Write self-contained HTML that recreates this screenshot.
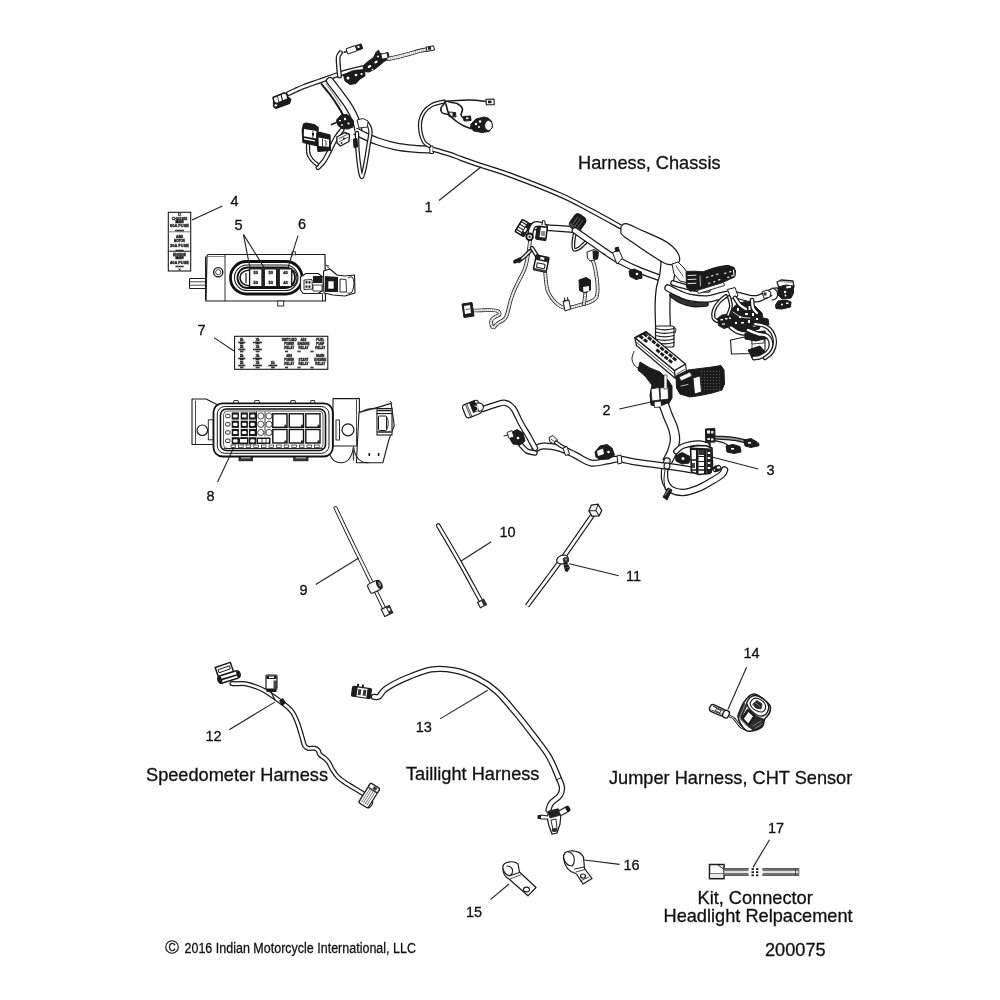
<!DOCTYPE html>
<html><head><meta charset="utf-8">
<style>
html,body{margin:0;padding:0;background:#fff;width:1000px;height:1000px;overflow:hidden}
svg{display:block}
text{font-family:"Liberation Sans",sans-serif;fill:#111;stroke:#111;stroke-width:0.3}
svg{will-change:transform}
.lb{font-size:18.2px}
.n{font-size:14.5px}
.ld{stroke:#222;stroke-width:1.1;fill:none}
</style></head><body>
<svg width="1000" height="1000" viewBox="0 0 1000 1000">
<rect width="1000" height="1000" fill="#fff"/>
<path d="M288.5 93.5 C289.8 92.9 293.4 91.2 296.0 90.0 C298.6 88.8 300.2 88.0 304.0 86.5 C307.8 85.0 314.0 83.0 318.8 81.3 C323.6 79.6 328.6 77.8 332.8 76.3 C337.0 74.8 338.8 74.0 344.0 72.5 C349.2 71.0 360.7 68.3 364.0 67.5" fill="none" stroke="#1a1a1a" stroke-width="5.10" stroke-linecap="round" stroke-linejoin="round"/>
<path d="M288.5 93.5 C289.8 92.9 293.4 91.2 296.0 90.0 C298.6 88.8 300.2 88.0 304.0 86.5 C307.8 85.0 314.0 83.0 318.8 81.3 C323.6 79.6 328.6 77.8 332.8 76.3 C337.0 74.8 338.8 74.0 344.0 72.5 C349.2 71.0 360.7 68.3 364.0 67.5" fill="none" stroke="#fff" stroke-width="2.60" stroke-linecap="round" stroke-linejoin="round"/>
<path d="M293.0 93.5 C297.3 91.8 310.3 86.4 318.8 83.3 C327.3 80.2 339.8 76.1 344.0 74.7" fill="none" stroke="#444" stroke-width="0.6" stroke-linecap="round" stroke-linejoin="round"/>
<path d="M339.5 76.0 C339.3 74.3 338.7 69.2 338.5 66.0 C338.3 62.8 337.9 59.2 338.2 57.0 C338.5 54.8 340.1 53.5 340.5 52.8" fill="none" stroke="#1a1a1a" stroke-width="4.90" stroke-linecap="round" stroke-linejoin="round"/>
<path d="M339.5 76.0 C339.3 74.3 338.7 69.2 338.5 66.0 C338.3 62.8 337.9 59.2 338.2 57.0 C338.5 54.8 340.1 53.5 340.5 52.8" fill="none" stroke="#fff" stroke-width="2.40" stroke-linecap="round" stroke-linejoin="round"/>
<path d="M273.5 102.0 L288.0 97.0 L290.8 99.5 L289.5 103.5 L276.0 108.5 L273.5 106.5Z" fill="#1c1c1c" stroke="#1a1a1a" stroke-width="1.2" stroke-linejoin="round" />
<ellipse cx="275.8" cy="105.2" rx="1.6" ry="1.1" fill="#fff" transform="rotate(-20 275.8 105.2)"/>
<path d="M273.0 97.5 L284.5 92.8 L287.0 94.5 L288.0 99.0 L276.5 103.8 L273.8 101.5Z" fill="#fff" stroke="#1a1a1a" stroke-width="1.5" stroke-linejoin="round" />
<path d="M281.0 94.5 L282.5 100.5" fill="none" stroke="#1a1a1a" stroke-width="1.1" stroke-linecap="round" stroke-linejoin="round"/>
<path d="M277.5 96.5 L279.0 102.0" fill="none" stroke="#1a1a1a" stroke-width="0.8" stroke-linecap="round" stroke-linejoin="round"/>
<g transform="translate(353,49.3) rotate(-19)">
<rect x="-10" y="-0.8" width="4" height="1.6" fill="#222"/>
<rect x="-6.5" y="-2.8" width="10" height="5.6" rx="1" fill="#fff" stroke="#1a1a1a" stroke-width="1"/>
<rect x="3" y="-3" width="7" height="6" rx="1.5" fill="#1c1c1c"/>
<rect x="5" y="-1.5" width="2" height="2" fill="#fff"/>
</g>
<path d="M363.0 66.0 L368.0 61.5 L373.5 57.5 L376.0 52.5 L378.5 50.0 L379.8 53.5 L383.0 54.0 L388.0 52.5 L389.5 58.5 L384.0 61.5 L380.0 65.0 L375.0 69.0 L369.0 72.0 L364.0 71.5Z" fill="#1c1c1c" stroke="#1a1a1a" stroke-width="1.0" stroke-linejoin="round" />
<path d="M381.0 54.0 L387.0 53.0 L388.0 58.0 L382.0 59.0Z" fill="#fff" stroke="#1a1a1a" stroke-width="0.7" stroke-linejoin="round" />
<ellipse cx="369.5" cy="66.5" rx="2" ry="1.2" fill="#fff" transform="rotate(-30 369.5 66.5)"/><ellipse cx="376" cy="62" rx="1.8" ry="1.1" fill="#fff" transform="rotate(-30 376 62)"/><circle cx="378" cy="56.5" r="1" fill="#fff"/><circle cx="372.5" cy="69.5" r="0.8" fill="#fff"/>
<path d="M388.5 59.0 C391.2 58.3 399.8 56.4 405.0 55.0 C410.2 53.6 416.3 51.7 420.0 50.8 C423.7 49.9 425.8 49.7 427.0 49.5" fill="none" stroke="#222" stroke-width="4.10" stroke-linecap="round" stroke-linejoin="round"/>
<path d="M388.5 59.0 C391.2 58.3 399.8 56.4 405.0 55.0 C410.2 53.6 416.3 51.7 420.0 50.8 C423.7 49.9 425.8 49.7 427.0 49.5" fill="none" stroke="#fff" stroke-width="2.40" stroke-linecap="round" stroke-linejoin="round"/>
<path d="M388.5 59.0 C391.2 58.3 399.8 56.4 405.0 55.0 C410.2 53.6 416.3 51.7 420.0 50.8 C423.7 49.9 425.8 49.7 427.0 49.5" fill="none" stroke="#999" stroke-width="2.40" stroke-dasharray="0.6 1.5" stroke-linejoin="round"/>
<path d="M426.0 47.2 L433.5 45.8 L434.5 50.0 L427.0 51.4Z" fill="#fff" stroke="#1a1a1a" stroke-width="1" stroke-linejoin="round" />
<rect x="428" y="47" width="3" height="2.8" fill="#1a1a1a" transform="rotate(-10 429 48)"/>
<path d="M343.5 75.0 L352.0 71.0 L358.0 70.0 L364.5 70.5 L365.0 76.0 L360.0 79.0 L356.0 83.5 L350.0 84.5 L345.0 81.0Z" fill="#1c1c1c" stroke="#1a1a1a" stroke-width="1.0" stroke-linejoin="round" />
<circle cx="348" cy="78" r="1.5" fill="#fff"/><circle cx="356" cy="75" r="1.3" fill="#fff"/><circle cx="361.5" cy="74" r="1.1" fill="#fff"/>
<path d="M330.0 81.0 C331.6 83.1 336.6 89.6 339.5 93.5 C342.4 97.4 345.2 100.9 347.5 104.5 C349.8 108.1 351.9 111.8 353.5 115.0 C355.1 118.2 356.2 121.3 357.0 124.0 C357.8 126.7 358.2 129.8 358.5 131.0" fill="none" stroke="#1a1a1a" stroke-width="8.10" stroke-linecap="round" stroke-linejoin="round"/>
<path d="M330.0 81.0 C331.6 83.1 336.6 89.6 339.5 93.5 C342.4 97.4 345.2 100.9 347.5 104.5 C349.8 108.1 351.9 111.8 353.5 115.0 C355.1 118.2 356.2 121.3 357.0 124.0 C357.8 126.7 358.2 129.8 358.5 131.0" fill="none" stroke="#fff" stroke-width="5.60" stroke-linecap="round" stroke-linejoin="round"/>
<path d="M321.5 84.0 C322.9 85.8 327.3 90.9 330.0 94.5 C332.7 98.1 335.4 102.2 337.5 105.5 C339.6 108.8 341.1 111.4 342.5 114.0 C343.9 116.6 345.4 119.8 346.0 121.0" fill="none" stroke="#1a1a1a" stroke-width="2.0" stroke-linecap="round" stroke-linejoin="round"/>
<path d="M326.0 84.0 C327.3 85.8 331.5 91.3 334.0 95.0 C336.5 98.7 339.8 104.2 341.0 106.0" fill="none" stroke="#444" stroke-width="0.7" stroke-linecap="round" stroke-linejoin="round"/>
<path d="M355.0 131.0 C356.8 131.9 362.2 134.8 366.0 136.5 C369.8 138.2 373.2 139.9 378.0 141.5 C382.8 143.1 389.0 145.0 395.0 146.2 C401.0 147.4 408.0 148.2 414.0 148.8 C420.0 149.4 428.2 149.4 431.0 149.5" fill="none" stroke="#1a1a1a" stroke-width="8.10" stroke-linecap="butt" stroke-linejoin="round"/>
<path d="M355.0 131.0 C356.8 131.9 362.2 134.8 366.0 136.5 C369.8 138.2 373.2 139.9 378.0 141.5 C382.8 143.1 389.0 145.0 395.0 146.2 C401.0 147.4 408.0 148.2 414.0 148.8 C420.0 149.4 428.2 149.4 431.0 149.5" fill="none" stroke="#fff" stroke-width="5.60" stroke-linecap="butt" stroke-linejoin="round"/>
<path d="M429.5 146.0 L433.0 146.0 L433.5 153.5 L430.0 153.5Z" fill="#fff" stroke="#1a1a1a" stroke-width="1" stroke-linejoin="round" />
<path d="M357.0 133.0 C357.1 135.8 357.1 144.2 357.5 150.0 C357.9 155.8 358.8 163.5 359.5 168.0 C360.2 172.5 361.1 177.3 362.0 177.0 C362.9 176.7 363.9 171.3 365.0 166.0 C366.1 160.7 367.6 150.8 368.5 145.0 C369.4 139.2 370.7 134.6 370.5 131.0 C370.3 127.4 368.8 125.2 367.5 123.5 C366.2 121.8 363.3 121.4 362.5 121.0" fill="none" stroke="#1a1a1a" stroke-width="4.40" stroke-linecap="round" stroke-linejoin="round"/>
<path d="M357.0 133.0 C357.1 135.8 357.1 144.2 357.5 150.0 C357.9 155.8 358.8 163.5 359.5 168.0 C360.2 172.5 361.1 177.3 362.0 177.0 C362.9 176.7 363.9 171.3 365.0 166.0 C366.1 160.7 367.6 150.8 368.5 145.0 C369.4 139.2 370.7 134.6 370.5 131.0 C370.3 127.4 368.8 125.2 367.5 123.5 C366.2 121.8 363.3 121.4 362.5 121.0" fill="none" stroke="#fff" stroke-width="1.90" stroke-linecap="round" stroke-linejoin="round"/>
<path d="M342.0 130.0 C341.0 131.3 338.0 134.7 336.0 138.0 C334.0 141.3 332.0 146.2 330.0 150.0 C328.0 153.8 326.0 158.1 324.0 161.0 C322.0 163.9 319.0 166.4 318.0 167.5" fill="none" stroke="#1a1a1a" stroke-width="5.10" stroke-linecap="round" stroke-linejoin="round"/>
<path d="M342.0 130.0 C341.0 131.3 338.0 134.7 336.0 138.0 C334.0 141.3 332.0 146.2 330.0 150.0 C328.0 153.8 326.0 158.1 324.0 161.0 C322.0 163.9 319.0 166.4 318.0 167.5" fill="none" stroke="#fff" stroke-width="2.60" stroke-linecap="round" stroke-linejoin="round"/>
<path d="M308.0 145.0 C308.1 146.5 307.8 151.5 308.5 154.0 C309.2 156.5 310.6 158.2 312.0 160.0 C313.4 161.8 316.2 163.8 317.0 164.5" fill="none" stroke="#1a1a1a" stroke-width="4.30" stroke-linecap="round" stroke-linejoin="round"/>
<path d="M308.0 145.0 C308.1 146.5 307.8 151.5 308.5 154.0 C309.2 156.5 310.6 158.2 312.0 160.0 C313.4 161.8 316.2 163.8 317.0 164.5" fill="none" stroke="#fff" stroke-width="1.80" stroke-linecap="round" stroke-linejoin="round"/>
<path d="M303.5 124.0 L306.0 123.0 L314.0 124.5 L318.2 127.6 L317.5 146.0 L303.0 142.5 L302.2 130.0Z" fill="#1a1a1a" stroke="#1a1a1a" stroke-width="1.2" stroke-linejoin="round" />
<path d="M304.0 129.0 L316.5 131.0 L316.3 138.5 L303.8 136.3Z" fill="#fff" stroke="none" stroke-width="1.0" stroke-linejoin="round" />
<path d="M304.0 138.0 L315.0 140.2 L315.0 141.6 L304.0 139.4Z" fill="#fff" stroke="none" stroke-width="1.0" stroke-linejoin="round" />
<path d="M313.0 131.5 L312.8 137.5" fill="none" stroke="#1a1a1a" stroke-width="0.9" stroke-linecap="round" stroke-linejoin="round"/>
<rect x="312" y="133" width="2" height="2.5" fill="#1a1a1a"/>
<path d="M317.0 133.0 L320.0 132.4 L330.0 135.0 L330.5 150.5 L318.0 151.5 L316.8 140.0Z" fill="#1a1a1a" stroke="#1a1a1a" stroke-width="1.2" stroke-linejoin="round" />
<path d="M318.5 137.5 L329.0 139.5 L329.0 146.8 L318.8 146.0Z" fill="#fff" stroke="none" stroke-width="1.0" stroke-linejoin="round" />
<path d="M322.5 139.0 L322.5 146.0" fill="none" stroke="#1a1a1a" stroke-width="0.9" stroke-linecap="round" stroke-linejoin="round"/>
<path d="M324.5 140.5 Q327 141 326 143 Q327.5 144.5 324.8 145.5" fill="none" stroke="#1a1a1a" stroke-width="0.9"/>
<path d="M336.5 120.0 L341.0 115.0 L347.0 114.5 L350.0 117.0 L353.5 121.0 L353.0 127.0 L348.0 129.0 L342.0 128.5 L338.0 125.5Z" fill="#1c1c1c" stroke="#1a1a1a" stroke-width="1.0" stroke-linejoin="round" />
<path d="M336.5 122.5 L331.5 124.5" fill="none" stroke="#1a1a1a" stroke-width="1.8" stroke-linecap="round" stroke-linejoin="round"/>
<circle cx="345" cy="119" r="1.2" fill="#fff"/><circle cx="348.5" cy="123.5" r="1.1" fill="#fff"/><circle cx="342" cy="125" r="0.9" fill="#fff"/><rect x="339" y="120" width="2" height="1.2" fill="#fff"/>
<path d="M336.8 137.0 L345.0 132.5 L349.5 134.5 L349.0 141.5 L340.5 146.0 L337.0 143.0Z" fill="#fff" stroke="#1a1a1a" stroke-width="1.4" stroke-linejoin="round" />
<path d="M339.0 138.5 L346.5 134.8" fill="none" stroke="#1a1a1a" stroke-width="0.8" stroke-linecap="round" stroke-linejoin="round"/>
<path d="M339.5 141.5 L347.5 137.5" fill="none" stroke="#1a1a1a" stroke-width="0.8" stroke-linecap="round" stroke-linejoin="round"/>
<circle cx="344" cy="138.5" r="1" fill="#1a1a1a"/><circle cx="341.5" cy="143" r="0.9" fill="#1a1a1a"/>
<path d="M353.5 139.0 L357.0 138.5 L357.5 147.0 L354.0 147.5Z" fill="#1c1c1c" stroke="#1a1a1a" stroke-width="1.0" stroke-linejoin="round" />
<path d="M357.0 120.0 L363.0 118.5 L368.0 121.0 L367.5 127.0 L359.0 128.0Z" fill="#fff" stroke="#1a1a1a" stroke-width="0.9" stroke-linejoin="round" />
<path d="M429.0 146.0 C428.2 145.3 425.4 144.3 424.0 142.0 C422.6 139.7 421.1 135.5 420.5 132.0 C419.9 128.5 419.7 124.3 420.3 121.0 C420.9 117.7 422.1 114.7 424.0 112.0 C425.9 109.3 428.7 106.8 432.0 105.0 C435.3 103.2 442.0 102.1 444.0 101.5" fill="none" stroke="#1a1a1a" stroke-width="4.20" stroke-linecap="round" stroke-linejoin="round"/>
<path d="M429.0 146.0 C428.2 145.3 425.4 144.3 424.0 142.0 C422.6 139.7 421.1 135.5 420.5 132.0 C419.9 128.5 419.7 124.3 420.3 121.0 C420.9 117.7 422.1 114.7 424.0 112.0 C425.9 109.3 428.7 106.8 432.0 105.0 C435.3 103.2 442.0 102.1 444.0 101.5" fill="none" stroke="#fff" stroke-width="1.70" stroke-linecap="round" stroke-linejoin="round"/>
<path d="M445.0 101.5 C446.2 101.4 447.8 101.0 452.0 100.8 C456.2 100.5 464.2 99.9 470.0 100.0 C475.8 100.1 483.8 101.2 486.5 101.5" fill="none" stroke="#1a1a1a" stroke-width="1.6" stroke-linecap="round" stroke-linejoin="round"/>
<path d="M486.0 99.2 L494.0 99.0 L494.3 104.6 L486.3 104.8Z" fill="#fff" stroke="#1a1a1a" stroke-width="1.1" stroke-linejoin="round" />
<rect x="488" y="100.6" width="3.5" height="2.6" fill="#1a1a1a"/>
<path d="M449.0 102.0 C450.5 102.3 455.8 102.8 458.0 104.0 C460.2 105.2 462.0 107.2 462.5 109.0 C463.0 110.8 460.8 113.4 461.0 115.0 C461.2 116.6 463.5 117.9 464.0 118.5" fill="none" stroke="#1a1a1a" stroke-width="1.6" stroke-linecap="round" stroke-linejoin="round"/>
<path d="M463.5 116.5 L470.5 116.0 L471.0 120.5 L464.0 121.0Z" fill="#1c1c1c" stroke="#1a1a1a" stroke-width="1.0" stroke-linejoin="round" />
<rect x="466" y="117.5" width="2.5" height="1.6" fill="#fff"/>
<path d="M445.0 103.0 C444.3 103.8 441.4 106.3 441.0 108.0 C440.6 109.7 441.2 111.9 442.5 113.0 C443.8 114.1 447.5 114.2 448.5 114.5" fill="none" stroke="#1a1a1a" stroke-width="1.6" stroke-linecap="round" stroke-linejoin="round"/>
<path d="M448.5 112.0 L455.5 112.5 L456.0 117.0 L449.0 116.5Z" fill="#fff" stroke="#1a1a1a" stroke-width="1" stroke-linejoin="round" />
<rect x="452.5" y="112.5" width="3" height="4" fill="#1a1a1a"/>
<path d="M446.0 104.0 C446.5 105.7 447.3 111.2 449.0 114.0 C450.7 116.8 453.5 119.0 456.0 121.0 C458.5 123.0 461.5 124.8 464.0 126.0 C466.5 127.2 469.8 128.1 471.0 128.5" fill="none" stroke="#1a1a1a" stroke-width="1.6" stroke-linecap="round" stroke-linejoin="round"/>
<path d="M471.0 124.0 L476.0 119.0 L484.0 117.0 L488.0 118.0 L491.5 121.0 L492.5 127.0 L489.0 131.5 L482.0 132.5 L474.0 131.0 L470.5 128.0Z" fill="#1c1c1c" stroke="#1a1a1a" stroke-width="1.0" stroke-linejoin="round" />
<ellipse cx="488.5" cy="125.5" rx="3.8" ry="5" fill="#fff" stroke="#1a1a1a" stroke-width="0.9"/>
<circle cx="476" cy="124" r="1.2" fill="#fff"/><circle cx="480" cy="121.5" r="1.2" fill="#fff"/><circle cx="479" cy="127" r="1" fill="#fff"/>
<path d="M433.0 149.3 C435.8 150.1 445.3 152.8 450.0 154.3 C454.7 155.8 455.8 156.6 461.0 158.5 C466.2 160.4 472.8 162.8 481.0 165.5 C489.2 168.2 496.8 170.1 510.0 175.0 C523.2 179.9 546.7 189.0 560.0 194.8 C573.3 200.6 579.7 204.6 590.0 210.0 C600.3 215.4 616.7 224.6 622.0 227.5" fill="none" stroke="#1a1a1a" stroke-width="5.10" stroke-linecap="butt" stroke-linejoin="round"/>
<path d="M433.0 149.3 C435.8 150.1 445.3 152.8 450.0 154.3 C454.7 155.8 455.8 156.6 461.0 158.5 C466.2 160.4 472.8 162.8 481.0 165.5 C489.2 168.2 496.8 170.1 510.0 175.0 C523.2 179.9 546.7 189.0 560.0 194.8 C573.3 200.6 579.7 204.6 590.0 210.0 C600.3 215.4 616.7 224.6 622.0 227.5" fill="none" stroke="#fff" stroke-width="2.60" stroke-linecap="butt" stroke-linejoin="round"/>
<path d="M530.0 241.0 C529.8 242.8 529.3 247.5 528.5 252.0 C527.7 256.5 526.7 263.1 525.0 268.0 C523.3 272.9 520.3 277.7 518.5 281.5 C516.7 285.3 515.3 287.8 514.0 291.0 C512.7 294.2 511.4 298.0 510.5 301.0 C509.6 304.0 509.2 306.5 508.5 309.0 C507.8 311.5 507.3 314.2 506.5 316.0 C505.7 317.8 504.8 318.9 503.5 320.0 C502.2 321.1 500.3 321.6 499.0 322.5 C497.7 323.4 496.4 324.7 495.5 325.5 C494.6 326.3 494.2 327.6 493.5 327.5 C492.8 327.4 491.8 326.2 491.5 325.0 C491.2 323.8 490.9 321.3 491.5 320.0 C492.1 318.7 493.7 317.9 495.0 317.0 C496.3 316.1 499.1 315.5 499.5 314.5 C499.9 313.5 499.1 311.8 497.5 311.0 C495.9 310.2 492.6 310.1 490.0 310.0 C487.4 309.9 484.7 310.2 482.0 310.3 C479.3 310.4 475.3 310.5 474.0 310.5" fill="none" stroke="#222" stroke-width="3.70" stroke-linecap="round" stroke-linejoin="round"/>
<path d="M530.0 241.0 C529.8 242.8 529.3 247.5 528.5 252.0 C527.7 256.5 526.7 263.1 525.0 268.0 C523.3 272.9 520.3 277.7 518.5 281.5 C516.7 285.3 515.3 287.8 514.0 291.0 C512.7 294.2 511.4 298.0 510.5 301.0 C509.6 304.0 509.2 306.5 508.5 309.0 C507.8 311.5 507.3 314.2 506.5 316.0 C505.7 317.8 504.8 318.9 503.5 320.0 C502.2 321.1 500.3 321.6 499.0 322.5 C497.7 323.4 496.4 324.7 495.5 325.5 C494.6 326.3 494.2 327.6 493.5 327.5 C492.8 327.4 491.8 326.2 491.5 325.0 C491.2 323.8 490.9 321.3 491.5 320.0 C492.1 318.7 493.7 317.9 495.0 317.0 C496.3 316.1 499.1 315.5 499.5 314.5 C499.9 313.5 499.1 311.8 497.5 311.0 C495.9 310.2 492.6 310.1 490.0 310.0 C487.4 309.9 484.7 310.2 482.0 310.3 C479.3 310.4 475.3 310.5 474.0 310.5" fill="none" stroke="#fff" stroke-width="2.00" stroke-linecap="round" stroke-linejoin="round"/>
<path d="M530.0 241.0 C529.8 242.8 529.3 247.5 528.5 252.0 C527.7 256.5 526.7 263.1 525.0 268.0 C523.3 272.9 520.3 277.7 518.5 281.5 C516.7 285.3 515.3 287.8 514.0 291.0 C512.7 294.2 511.4 298.0 510.5 301.0 C509.6 304.0 509.2 306.5 508.5 309.0 C507.8 311.5 507.3 314.2 506.5 316.0 C505.7 317.8 504.8 318.9 503.5 320.0 C502.2 321.1 500.3 321.6 499.0 322.5 C497.7 323.4 496.4 324.7 495.5 325.5 C494.6 326.3 494.2 327.6 493.5 327.5 C492.8 327.4 491.8 326.2 491.5 325.0 C491.2 323.8 490.9 321.3 491.5 320.0 C492.1 318.7 493.7 317.9 495.0 317.0 C496.3 316.1 499.1 315.5 499.5 314.5 C499.9 313.5 499.1 311.8 497.5 311.0 C495.9 310.2 492.6 310.1 490.0 310.0 C487.4 309.9 484.7 310.2 482.0 310.3 C479.3 310.4 475.3 310.5 474.0 310.5" fill="none" stroke="#999" stroke-width="2.00" stroke-dasharray="0.6 1.5" stroke-linejoin="round"/>
<path d="M545.0 270.0 C545.4 273.3 545.7 284.5 547.5 290.0 C549.3 295.5 552.9 300.0 556.0 303.0 C559.1 306.0 562.3 307.6 566.0 308.0 C569.7 308.4 574.0 306.5 578.0 305.5 C582.0 304.5 586.9 303.4 590.0 302.0 C593.1 300.6 595.2 299.8 596.5 297.0 C597.8 294.2 597.8 289.8 597.5 285.0 C597.2 280.2 595.9 272.5 595.0 268.0 C594.1 263.5 592.5 259.7 592.0 258.0" fill="none" stroke="#222" stroke-width="3.70" stroke-linecap="round" stroke-linejoin="round"/>
<path d="M545.0 270.0 C545.4 273.3 545.7 284.5 547.5 290.0 C549.3 295.5 552.9 300.0 556.0 303.0 C559.1 306.0 562.3 307.6 566.0 308.0 C569.7 308.4 574.0 306.5 578.0 305.5 C582.0 304.5 586.9 303.4 590.0 302.0 C593.1 300.6 595.2 299.8 596.5 297.0 C597.8 294.2 597.8 289.8 597.5 285.0 C597.2 280.2 595.9 272.5 595.0 268.0 C594.1 263.5 592.5 259.7 592.0 258.0" fill="none" stroke="#fff" stroke-width="2.00" stroke-linecap="round" stroke-linejoin="round"/>
<path d="M545.0 270.0 C545.4 273.3 545.7 284.5 547.5 290.0 C549.3 295.5 552.9 300.0 556.0 303.0 C559.1 306.0 562.3 307.6 566.0 308.0 C569.7 308.4 574.0 306.5 578.0 305.5 C582.0 304.5 586.9 303.4 590.0 302.0 C593.1 300.6 595.2 299.8 596.5 297.0 C597.8 294.2 597.8 289.8 597.5 285.0 C597.2 280.2 595.9 272.5 595.0 268.0 C594.1 263.5 592.5 259.7 592.0 258.0" fill="none" stroke="#999" stroke-width="2.00" stroke-dasharray="0.6 1.5" stroke-linejoin="round"/>
<path d="M585.5 292.0 L584.0 304.0" fill="none" stroke="#222" stroke-width="3.70" stroke-linecap="round" stroke-linejoin="round"/>
<path d="M585.5 292.0 L584.0 304.0" fill="none" stroke="#fff" stroke-width="2.00" stroke-linecap="round" stroke-linejoin="round"/>
<path d="M585.5 292.0 L584.0 304.0" fill="none" stroke="#999" stroke-width="2.00" stroke-dasharray="0.6 1.5" stroke-linejoin="round"/>
<path d="M530.0 251.0 C529.0 252.0 525.8 255.3 524.0 257.0 C522.2 258.7 519.8 260.3 519.0 261.0" fill="none" stroke="#1a1a1a" stroke-width="4.10" stroke-linecap="round" stroke-linejoin="round"/>
<path d="M530.0 251.0 C529.0 252.0 525.8 255.3 524.0 257.0 C522.2 258.7 519.8 260.3 519.0 261.0" fill="none" stroke="#fff" stroke-width="1.60" stroke-linecap="round" stroke-linejoin="round"/>
<g transform="translate(517.5,260.5) rotate(-25)"><rect x="-4.5" y="-2" width="9" height="4" rx="2" fill="#1a1a1a"/></g>
<path d="M532.0 248.0 L537.0 256.0" fill="none" stroke="#1a1a1a" stroke-width="4.30" stroke-linecap="round" stroke-linejoin="round"/>
<path d="M532.0 248.0 L537.0 256.0" fill="none" stroke="#fff" stroke-width="1.80" stroke-linecap="round" stroke-linejoin="round"/>
<path d="M530.0 226.5 C532.5 226.7 540.0 227.2 545.0 227.5 C550.0 227.8 555.5 228.2 560.0 228.5 C564.5 228.8 569.0 228.9 572.0 229.5 C575.0 230.1 577.0 231.6 578.0 232.0" fill="none" stroke="#1a1a1a" stroke-width="6.90" stroke-linecap="round" stroke-linejoin="round"/>
<path d="M530.0 226.5 C532.5 226.7 540.0 227.2 545.0 227.5 C550.0 227.8 555.5 228.2 560.0 228.5 C564.5 228.8 569.0 228.9 572.0 229.5 C575.0 230.1 577.0 231.6 578.0 232.0" fill="none" stroke="#fff" stroke-width="4.40" stroke-linecap="round" stroke-linejoin="round"/>
<g transform="translate(523,228) rotate(-58)">
<rect x="-7" y="-5" width="14" height="10" rx="1" fill="#fff" stroke="#111" stroke-width="1.6"/>
<path d="M-4.5 -5 L-4.5 5 M-1.5 -5 L-1.5 5 M1.5 -5 L1.5 5 M4.5 -5 L4.5 5" stroke="#222" stroke-width="1.1"/>
<rect x="-7" y="1" width="14" height="4" fill="#222"/>
<rect x="-2.5" y="2" width="4" height="2" fill="#fff"/>
</g>
<path d="M530.0 236.0 C530.2 234.8 530.8 230.9 531.5 229.0 C532.2 227.1 533.1 225.2 534.5 224.5 C535.9 223.8 538.2 224.1 540.0 224.5 C541.8 224.9 544.2 226.6 545.0 227.0" fill="none" stroke="#1a1a1a" stroke-width="6.10" stroke-linecap="round" stroke-linejoin="round"/>
<path d="M530.0 236.0 C530.2 234.8 530.8 230.9 531.5 229.0 C532.2 227.1 533.1 225.2 534.5 224.5 C535.9 223.8 538.2 224.1 540.0 224.5 C541.8 224.9 544.2 226.6 545.0 227.0" fill="none" stroke="#fff" stroke-width="3.60" stroke-linecap="round" stroke-linejoin="round"/>
<circle cx="529.6" cy="236.8" r="3.3" fill="#fff" stroke="#111" stroke-width="1.8"/>
<circle cx="529.6" cy="236.8" r="1.2" fill="#333"/>
<path d="M542 225 L542.6 220.6 L544.8 220.8 L545.2 225" fill="#fff" stroke="#1a1a1a" stroke-width="1.0" stroke-linejoin="round" stroke-linecap="round" />
<g transform="translate(541.6,233.2) rotate(8)">
<rect x="-5" y="-6.5" width="10" height="13" rx="1" fill="#fff" stroke="#111" stroke-width="1.5"/>
<rect x="-5" y="-6.5" width="3.5" height="13" fill="#222"/>
<rect x="-0.5" y="-2.5" width="4" height="5" fill="#888"/>
<rect x="-5" y="4" width="10" height="2.5" fill="#222"/>
</g>
<g transform="translate(541.2,263.6) rotate(12)">
<rect x="-6.5" y="-7.5" width="13" height="15" rx="1" fill="#fff" stroke="#111" stroke-width="1.5"/>
<rect x="-6.5" y="-7.5" width="13" height="5" fill="#222"/>
<rect x="-2" y="-6.5" width="4" height="2.5" fill="#fff"/>
<rect x="-4" y="0" width="8" height="4.5" fill="#fff" stroke="#111" stroke-width="0.9"/>
<rect x="-6.5" y="5.5" width="13" height="2" fill="#444"/>
</g>
<path d="M514.0 262.0 L517.0 260.0" fill="none" stroke="#1a1a1a" stroke-width="1.5" stroke-linecap="round" stroke-linejoin="round"/>
<path d="M462.0 304.0 L472.0 302.5 L474.0 316.0 L464.0 317.5Z" fill="#1c1c1c" stroke="#1a1a1a" stroke-width="1.0" stroke-linejoin="round" />
<path d="M464.0 306.0 L470.0 305.0 L471.0 313.0 L465.0 314.0Z" fill="#fff" stroke="none" stroke-width="1.0" stroke-linejoin="round" />
<path d="M466.0 309.5 L469.5 309.0" fill="none" stroke="#1a1a1a" stroke-width="0.7" stroke-linecap="round" stroke-linejoin="round"/>
<path d="M587.0 252.0 L594.0 249.5 L598.5 252.0 L597.5 259.0 L590.0 261.0 L587.5 258.0Z" fill="#fff" stroke="#1a1a1a" stroke-width="1" stroke-linejoin="round" />
<path d="M593.0 251.0 L598.0 252.0 L597.5 258.5 L593.5 259.0Z" fill="#1c1c1c" stroke="#1a1a1a" stroke-width="1.0" stroke-linejoin="round" />
<path d="M579.0 280.0 L586.0 277.5 L590.5 280.0 L590.5 290.0 L585.0 293.0 L579.5 290.5Z" fill="#1c1c1c" stroke="#1a1a1a" stroke-width="1.0" stroke-linejoin="round" />
<path d="M583.0 287.0 L589.0 286.0 L589.0 291.0 L583.5 292.0Z" fill="#fff" stroke="none" stroke-width="1.0" stroke-linejoin="round" />
<path d="M563.0 301.0 L569.0 300.0 L570.5 309.0 L565.0 311.0Z" fill="#fff" stroke="#1a1a1a" stroke-width="1" stroke-linejoin="round" />
<path d="M564.5 298.0 L565.0 302.0" fill="none" stroke="#1a1a1a" stroke-width="1.1" stroke-linecap="round" stroke-linejoin="round"/>
<path d="M567.5 297.5 L568.0 301.0" fill="none" stroke="#1a1a1a" stroke-width="1.1" stroke-linecap="round" stroke-linejoin="round"/>
<path d="M575.0 233.0 C574.8 234.3 573.7 238.2 573.5 241.0 C573.3 243.8 573.0 248.3 574.0 249.5 C575.0 250.7 577.5 249.2 579.5 248.0 C581.5 246.8 584.9 243.0 586.0 242.0" fill="none" stroke="#1a1a1a" stroke-width="3.90" stroke-linecap="round" stroke-linejoin="round"/>
<path d="M575.0 233.0 C574.8 234.3 573.7 238.2 573.5 241.0 C573.3 243.8 573.0 248.3 574.0 249.5 C575.0 250.7 577.5 249.2 579.5 248.0 C581.5 246.8 584.9 243.0 586.0 242.0" fill="none" stroke="#fff" stroke-width="1.40" stroke-linecap="round" stroke-linejoin="round"/>
<g transform="translate(577.6,222.5) rotate(35)">
<rect x="-6.5" y="-8" width="13" height="16" rx="4" fill="#1a1a1a" stroke="#111" stroke-width="1"/>
<path d="M-3 -5 L-3 5 M0 -5 L0 5 M3 -5 L3 5" stroke="#666" stroke-width="0.9"/>
<rect x="-6" y="4" width="12" height="4" rx="1.5" fill="#444"/>
</g>
<path d="M575.0 230.5 C577.5 232.2 585.0 237.5 590.0 241.0 C595.0 244.5 600.0 248.2 605.0 251.5 C610.0 254.8 614.2 257.8 620.0 261.0 C625.8 264.2 632.8 267.5 640.0 270.5 C647.2 273.5 659.2 277.6 663.0 279.0" fill="none" stroke="#1a1a1a" stroke-width="6.90" stroke-linecap="round" stroke-linejoin="round"/>
<path d="M575.0 230.5 C577.5 232.2 585.0 237.5 590.0 241.0 C595.0 244.5 600.0 248.2 605.0 251.5 C610.0 254.8 614.2 257.8 620.0 261.0 C625.8 264.2 632.8 267.5 640.0 270.5 C647.2 273.5 659.2 277.6 663.0 279.0" fill="none" stroke="#fff" stroke-width="4.40" stroke-linecap="round" stroke-linejoin="round"/>
<path d="M612.5 252.5 L619.0 250.0 L622.5 258.0 L617.0 264.0Z" fill="#fff" stroke="#1a1a1a" stroke-width="1" stroke-linejoin="round" />
<path d="M615.0 248.0 L618.5 247.0 L619.0 251.0 L615.5 251.5Z" fill="#1c1c1c" stroke="#1a1a1a" stroke-width="1.0" stroke-linejoin="round" />
<path d="M629.0 271.0 L634.0 269.0 L641.5 272.0 L642.0 278.0 L636.0 279.5 L630.0 276.5Z" fill="#1c1c1c" stroke="#1a1a1a" stroke-width="1.0" stroke-linejoin="round" />
<circle cx="637" cy="274" r="1.3" fill="#fff"/>
<path d="M668.5 262.0 C668.2 264.3 667.8 271.3 667.0 276.0 C666.2 280.7 664.2 285.2 663.5 290.0 C662.8 294.8 662.6 298.7 662.5 305.0 C662.4 311.3 662.9 324.2 663.0 328.0" fill="none" stroke="#1a1a1a" stroke-width="16.00" stroke-linecap="butt" stroke-linejoin="round"/>
<path d="M668.5 262.0 C668.2 264.3 667.8 271.3 667.0 276.0 C666.2 280.7 664.2 285.2 663.5 290.0 C662.8 294.8 662.6 298.7 662.5 305.0 C662.4 311.3 662.9 324.2 663.0 328.0" fill="none" stroke="#fff" stroke-width="13.50" stroke-linecap="butt" stroke-linejoin="round"/>
<path d="M621.0 226.5 C621.8 226.0 622.8 223.1 626.0 223.6 C629.2 224.1 633.9 226.8 640.0 229.5 C646.1 232.2 657.1 236.8 662.4 239.6 C667.7 242.3 669.3 243.6 672.0 246.0 C674.7 248.4 677.2 251.4 678.4 254.0 C679.6 256.6 679.9 259.8 679.2 261.5 C678.5 263.2 676.4 264.1 674.0 264.4 C671.6 264.7 669.1 265.2 665.0 263.5 C660.9 261.8 654.6 257.2 649.6 254.0 C644.6 250.8 639.3 246.9 635.0 244.0 C630.7 241.1 626.4 238.2 624.0 236.4 C621.6 234.6 621.3 233.6 620.8 233.0Z" fill="#fff" stroke="#1a1a1a" stroke-width="1.2" stroke-linejoin="round" stroke-linecap="round" />
<path d="M672.0 295.0 C673.5 296.0 677.5 299.4 681.0 301.0 C684.5 302.6 688.8 304.0 693.0 304.5 C697.2 305.0 703.8 304.1 706.0 304.0" fill="none" stroke="#1a1a1a" stroke-width="5.70" stroke-linecap="round" stroke-linejoin="round"/>
<path d="M672.0 295.0 C673.5 296.0 677.5 299.4 681.0 301.0 C684.5 302.6 688.8 304.0 693.0 304.5 C697.2 305.0 703.8 304.1 706.0 304.0" fill="none" stroke="#333" stroke-width="3.20" stroke-linecap="round" stroke-linejoin="round"/>
<path d="M668.0 288.0 C670.0 289.0 676.3 292.4 680.0 294.0 C683.7 295.6 685.5 296.7 690.0 297.5 C694.5 298.3 702.0 299.2 707.0 299.0 C712.0 298.8 716.2 296.8 720.0 296.0 C723.8 295.2 726.7 294.0 730.0 294.0 C733.3 294.0 736.7 295.2 740.0 296.0 C743.3 296.8 747.0 298.1 750.0 298.5 C753.0 298.9 755.3 299.1 758.0 298.5 C760.7 297.9 763.7 296.1 766.0 295.0 C768.3 293.9 770.3 292.7 772.0 292.0 C773.7 291.3 775.3 291.2 776.0 291.0" fill="none" stroke="#1a1a1a" stroke-width="7.50" stroke-linecap="round" stroke-linejoin="round"/>
<path d="M668.0 288.0 C670.0 289.0 676.3 292.4 680.0 294.0 C683.7 295.6 685.5 296.7 690.0 297.5 C694.5 298.3 702.0 299.2 707.0 299.0 C712.0 298.8 716.2 296.8 720.0 296.0 C723.8 295.2 726.7 294.0 730.0 294.0 C733.3 294.0 736.7 295.2 740.0 296.0 C743.3 296.8 747.0 298.1 750.0 298.5 C753.0 298.9 755.3 299.1 758.0 298.5 C760.7 297.9 763.7 296.1 766.0 295.0 C768.3 293.9 770.3 292.7 772.0 292.0 C773.7 291.3 775.3 291.2 776.0 291.0" fill="none" stroke="#fff" stroke-width="5.00" stroke-linecap="round" stroke-linejoin="round"/>
<path d="M672.0 264.0 L678.0 262.0 L684.0 268.0 L690.0 277.0 L688.0 283.0 L680.0 281.0 L674.0 274.0Z" fill="#fff" stroke="#1a1a1a" stroke-width="1" stroke-linejoin="round" />
<path d="M676.0 266.0 L683.0 276.0" fill="none" stroke="#1a1a1a" stroke-width="0.8" stroke-linecap="round" stroke-linejoin="round"/>
<path d="M673.0 283.0 C674.7 283.5 679.3 285.0 683.0 286.0 C686.7 287.0 690.8 288.3 695.0 289.0 C699.2 289.7 705.8 289.8 708.0 290.0" fill="none" stroke="#1a1a1a" stroke-width="5.70" stroke-linecap="round" stroke-linejoin="round"/>
<path d="M673.0 283.0 C674.7 283.5 679.3 285.0 683.0 286.0 C686.7 287.0 690.8 288.3 695.0 289.0 C699.2 289.7 705.8 289.8 708.0 290.0" fill="none" stroke="#fff" stroke-width="3.20" stroke-linecap="round" stroke-linejoin="round"/>
<path d="M686.0 271.5 L695.0 271.2 L703.0 271.8 L712.0 268.5 L719.5 266.5 L728.0 265.3 L734.0 267.5 L735.5 271.0 L735.0 276.8 L723.5 282.0 L698.0 289.8 L690.0 291.2 L686.5 287.0Z" fill="#1a1a1a" stroke="#1a1a1a" stroke-width="1.0" stroke-linejoin="round" />
<path d="M697.0 290.5 L723.5 282.3 L724.5 285.5 L698.5 293.5Z" fill="#fff" stroke="#1a1a1a" stroke-width="0.9" stroke-linejoin="round" />
<path d="M688.0 275.5 L696.0 275.2" fill="none" stroke="#fff" stroke-width="0.9" stroke-linecap="round" stroke-linejoin="round"/>
<path d="M688.0 279.5 L696.0 279.2" fill="none" stroke="#fff" stroke-width="0.9" stroke-linecap="round" stroke-linejoin="round"/>
<path d="M688.0 283.5 L696.0 283.2" fill="none" stroke="#fff" stroke-width="0.9" stroke-linecap="round" stroke-linejoin="round"/>
<rect x="706" y="277" width="2.2" height="1.2" fill="#ddd" transform="rotate(-17 706 277)"/>
<rect x="711" y="275.5" width="2.2" height="1.2" fill="#ddd" transform="rotate(-17 711 275.5)"/>
<rect x="716" y="274" width="2.2" height="1.2" fill="#ddd" transform="rotate(-17 716 274)"/>
<rect x="708" y="283" width="2.2" height="1.2" fill="#ddd" transform="rotate(-17 708 283)"/>
<rect x="713" y="281.5" width="2.2" height="1.2" fill="#ddd" transform="rotate(-17 713 281.5)"/>
<rect x="718" y="279.5" width="2.2" height="1.2" fill="#ddd" transform="rotate(-17 718 279.5)"/>
<rect x="724" y="273" width="2.2" height="1.2" fill="#ddd" transform="rotate(-17 724 273)"/>
<rect x="729" y="271.5" width="2.2" height="1.2" fill="#ddd" transform="rotate(-17 729 271.5)"/>
<rect x="727" y="277" width="2.2" height="1.2" fill="#ddd" transform="rotate(-17 727 277)"/>
<rect x="731" y="275.5" width="2.2" height="1.2" fill="#ddd" transform="rotate(-17 731 275.5)"/>
<path d="M733.5 270.0 L734.0 276.0" fill="none" stroke="#fff" stroke-width="1.0" stroke-linecap="round" stroke-linejoin="round"/>
<path d="M700.0 276.0 L700.5 286.0" fill="none" stroke="#ccc" stroke-width="0.9" stroke-linecap="round" stroke-linejoin="round"/>
<path d="M727.5 289.5 L735.0 287.5 L738.0 296.0 L731.0 299.0Z" fill="#fff" stroke="#1a1a1a" stroke-width="1" stroke-linejoin="round" />
<path d="M777.0 282.0 L781.0 280.0 L793.0 281.0 L794.0 287.0 L779.0 288.0Z" fill="#fff" stroke="#1a1a1a" stroke-width="1.3" stroke-linejoin="round" />
<path d="M780.0 281.5 L792.5 282.5" fill="none" stroke="#666" stroke-width="0.7" stroke-linecap="round" stroke-linejoin="round"/>
<path d="M778.0 287.0 L786.0 285.0 L793.5 286.0 L793.5 293.0 L791.0 298.0 L782.0 299.0 L778.0 295.0Z" fill="#1c1c1c" stroke="#1a1a1a" stroke-width="1.0" stroke-linejoin="round" />
<rect x="786" y="286.5" width="5" height="2" fill="#fff" transform="rotate(-10 786 286.5)"/>
<circle cx="785" cy="292" r="1.2" fill="#fff"/><circle cx="785.5" cy="295.5" r="0.9" fill="#fff"/>
<path d="M775.5 305.0 L778.0 301.0 L786.0 300.0 L791.0 302.0 L790.5 307.0 L782.0 309.0 L776.0 308.5Z" fill="#1c1c1c" stroke="#1a1a1a" stroke-width="1.0" stroke-linejoin="round" />
<circle cx="782" cy="304.5" r="1" fill="#fff"/><rect x="786" y="302.5" width="2.5" height="1.5" fill="#fff"/>
<path d="M772.5 288 Q778.5 290 777.5 296 Q776 300 772 300" fill="#fff" stroke="#1a1a1a" stroke-width="1.1" stroke-linejoin="round" stroke-linecap="round" />
<path d="M762.0 292.0 L767.0 290.0 L771.0 292.5 L770.0 297.0 L764.0 298.5Z" fill="#fff" stroke="#1a1a1a" stroke-width="1.0" stroke-linejoin="round" />
<rect x="763.5" y="292.5" width="3" height="3" fill="#333"/>
<path d="M731.0 310.0 L737.0 304.0 L745.0 301.5 L752.0 303.0 L757.0 308.0 L762.0 313.0 L763.5 321.0 L759.0 329.0 L748.0 332.5 L738.0 331.5 L732.0 327.0Z" fill="#1c1c1c" stroke="#1a1a1a" stroke-width="1.0" stroke-linejoin="round" />
<path d="M717.5 318.5 L722.0 315.0 L731.0 314.0 L734.0 318.0 L732.0 326.0 L724.0 328.5 L718.5 325.5Z" fill="#1c1c1c" stroke="#1a1a1a" stroke-width="1.0" stroke-linejoin="round" />
<rect x="720.5" y="319" width="2.5" height="1.4" fill="#fff"/>
<rect x="725" y="318" width="2.5" height="1.4" fill="#fff"/>
<rect x="729" y="317.5" width="2" height="1.4" fill="#fff"/>
<rect x="722" y="323.5" width="3" height="1.2" fill="#fff"/>
<rect x="737" y="308" width="2" height="3" fill="#fff"/>
<rect x="742" y="306" width="3" height="2" fill="#fff"/>
<rect x="748.5" y="306" width="2" height="4" fill="#fff"/>
<rect x="745" y="313" width="3" height="2" fill="#fff"/>
<rect x="739" y="316" width="2" height="2" fill="#fff"/>
<rect x="752" y="313" width="2" height="3" fill="#fff"/>
<rect x="756" y="318" width="2" height="2" fill="#fff"/>
<rect x="741" y="322" width="3" height="1.5" fill="#fff"/>
<rect x="748" y="320" width="2" height="3" fill="#fff"/>
<rect x="735" y="322" width="2" height="2" fill="#fff"/>
<rect x="753" y="325" width="3" height="1.5" fill="#fff"/>
<path d="M733.0 312.0 C734.3 312.8 738.2 316.0 741.0 317.0 C743.8 318.0 748.5 317.8 750.0 318.0" fill="none" stroke="#fff" stroke-width="0.8" stroke-linecap="round" stroke-linejoin="round"/>
<path d="M731.0 327.5 C732.2 328.2 735.5 331.0 738.0 332.0 C740.5 333.0 743.5 333.7 746.0 333.5 C748.5 333.3 751.8 331.4 753.0 331.0" fill="none" stroke="#1a1a1a" stroke-width="4.90" stroke-linecap="round" stroke-linejoin="round"/>
<path d="M731.0 327.5 C732.2 328.2 735.5 331.0 738.0 332.0 C740.5 333.0 743.5 333.7 746.0 333.5 C748.5 333.3 751.8 331.4 753.0 331.0" fill="none" stroke="#fff" stroke-width="2.40" stroke-linecap="round" stroke-linejoin="round"/>
<path d="M735.0 298.0 C735.8 299.2 738.2 303.2 740.0 305.0 C741.8 306.8 745.0 308.3 746.0 309.0" fill="none" stroke="#1a1a1a" stroke-width="4.70" stroke-linecap="round" stroke-linejoin="round"/>
<path d="M735.0 298.0 C735.8 299.2 738.2 303.2 740.0 305.0 C741.8 306.8 745.0 308.3 746.0 309.0" fill="none" stroke="#fff" stroke-width="2.20" stroke-linecap="round" stroke-linejoin="round"/>
<path d="M752.0 300.0 C752.2 301.3 752.2 305.8 753.0 308.0 C753.8 310.2 756.3 312.2 757.0 313.0" fill="none" stroke="#1a1a1a" stroke-width="4.70" stroke-linecap="round" stroke-linejoin="round"/>
<path d="M752.0 300.0 C752.2 301.3 752.2 305.8 753.0 308.0 C753.8 310.2 756.3 312.2 757.0 313.0" fill="none" stroke="#fff" stroke-width="2.20" stroke-linecap="round" stroke-linejoin="round"/>
<path d="M726.0 296.0 C724.8 297.0 721.0 299.7 719.0 302.0 C717.0 304.3 714.9 307.3 714.0 310.0 C713.1 312.7 713.0 316.2 713.5 318.0 C714.0 319.8 716.4 320.5 717.0 321.0" fill="none" stroke="#1a1a1a" stroke-width="4.10" stroke-linecap="round" stroke-linejoin="round"/>
<path d="M726.0 296.0 C724.8 297.0 721.0 299.7 719.0 302.0 C717.0 304.3 714.9 307.3 714.0 310.0 C713.1 312.7 713.0 316.2 713.5 318.0 C714.0 319.8 716.4 320.5 717.0 321.0" fill="none" stroke="#fff" stroke-width="1.60" stroke-linecap="round" stroke-linejoin="round"/>
<path d="M729.0 297.0 C729.3 298.5 731.2 303.0 731.0 306.0 C730.8 309.0 728.5 313.5 728.0 315.0" fill="none" stroke="#1a1a1a" stroke-width="3.90" stroke-linecap="round" stroke-linejoin="round"/>
<path d="M729.0 297.0 C729.3 298.5 731.2 303.0 731.0 306.0 C730.8 309.0 728.5 313.5 728.0 315.0" fill="none" stroke="#fff" stroke-width="1.40" stroke-linecap="round" stroke-linejoin="round"/>
<path d="M730.5 340.0 L752.0 335.5 L765.0 336.0 L765.0 350.0 L752.0 353.5 L731.5 354.0Z" fill="#fff" stroke="#1a1a1a" stroke-width="1.1" stroke-linejoin="round" />
<path d="M752.0 336.0 L752.0 353.0" fill="none" stroke="#1a1a1a" stroke-width="0.8" stroke-linecap="round" stroke-linejoin="round"/>
<path d="M752.0 337.0 L764.0 336.5 L764.0 343.0 L752.0 344.0Z" fill="#fff" stroke="#1a1a1a" stroke-width="0.8" stroke-linejoin="round" />
<path d="M745.0 333.0 L765.0 331.0 L768.0 338.0 L756.0 341.0 L745.0 339.0Z" fill="#1c1c1c" stroke="#1a1a1a" stroke-width="1.0" stroke-linejoin="round" />
<path d="M748.0 350.0 L760.0 346.0 L765.0 352.0 L762.0 358.0 L752.0 358.0Z" fill="#1c1c1c" stroke="#1a1a1a" stroke-width="1.0" stroke-linejoin="round" />
<path d="M748.0 330.0 C749.7 330.7 754.8 333.0 758.0 334.0 C761.2 335.0 764.8 334.3 767.0 336.0 C769.2 337.7 770.8 341.3 771.0 344.0 C771.2 346.7 769.8 349.8 768.0 352.0 C766.2 354.2 762.3 356.0 760.0 357.0 C757.7 358.0 755.0 357.8 754.0 358.0" fill="none" stroke="#1a1a1a" stroke-width="4.90" stroke-linecap="round" stroke-linejoin="round"/>
<path d="M748.0 330.0 C749.7 330.7 754.8 333.0 758.0 334.0 C761.2 335.0 764.8 334.3 767.0 336.0 C769.2 337.7 770.8 341.3 771.0 344.0 C771.2 346.7 769.8 349.8 768.0 352.0 C766.2 354.2 762.3 356.0 760.0 357.0 C757.7 358.0 755.0 357.8 754.0 358.0" fill="none" stroke="#fff" stroke-width="2.40" stroke-linecap="round" stroke-linejoin="round"/>
<path d="M755.0 324.0 C756.7 324.3 762.2 324.7 765.0 326.0 C767.8 327.3 770.3 329.3 772.0 332.0 C773.7 334.7 775.0 338.7 775.0 342.0 C775.0 345.3 773.7 349.3 772.0 352.0 C770.3 354.7 766.2 357.0 765.0 358.0" fill="none" stroke="#1a1a1a" stroke-width="4.30" stroke-linecap="round" stroke-linejoin="round"/>
<path d="M755.0 324.0 C756.7 324.3 762.2 324.7 765.0 326.0 C767.8 327.3 770.3 329.3 772.0 332.0 C773.7 334.7 775.0 338.7 775.0 342.0 C775.0 345.3 773.7 349.3 772.0 352.0 C770.3 354.7 766.2 357.0 765.0 358.0" fill="none" stroke="#fff" stroke-width="1.80" stroke-linecap="round" stroke-linejoin="round"/>
<path d="M762.0 318.0 L768.0 319.0 L769.0 325.0 L763.0 324.0Z" fill="#1c1c1c" stroke="#1a1a1a" stroke-width="1.0" stroke-linejoin="round" />
<rect x="655.5" y="326" width="18.5" height="21" rx="2" fill="#fff" stroke="#1a1a1a" stroke-width="1.2"/>
<path d="M655.5 328.5 Q664.7 331.3 674 328.5" fill="none" stroke="#1a1a1a" stroke-width="1.1" stroke-linejoin="round" stroke-linecap="round" />
<path d="M655.5 332 Q664.7 334.8 674 332" fill="none" stroke="#1a1a1a" stroke-width="1.1" stroke-linejoin="round" stroke-linecap="round" />
<path d="M655.5 335.5 Q664.7 338.3 674 335.5" fill="none" stroke="#1a1a1a" stroke-width="1.1" stroke-linejoin="round" stroke-linecap="round" />
<path d="M655.5 339 Q664.7 341.8 674 339" fill="none" stroke="#1a1a1a" stroke-width="1.1" stroke-linejoin="round" stroke-linecap="round" />
<path d="M655.5 342.5 Q664.7 345.3 674 342.5" fill="none" stroke="#1a1a1a" stroke-width="1.1" stroke-linejoin="round" stroke-linecap="round" />
<path d="M674.0 327.0 C674.3 327.3 675.8 328.0 676.0 329.0 C676.2 330.0 675.2 332.3 675.0 333.0" fill="none" stroke="#1a1a1a" stroke-width="1.0" stroke-linecap="round" stroke-linejoin="round"/>
<path d="M634.0 351.5 C633.7 352.6 632.1 355.9 632.0 358.0 C631.9 360.1 632.7 362.4 633.5 364.0 C634.3 365.6 635.8 366.6 637.0 367.5 C638.2 368.4 640.3 369.2 641.0 369.5" fill="none" stroke="#1a1a1a" stroke-width="1.0" stroke-linecap="round" stroke-linejoin="round"/>
<path d="M641.0 369.5 C642.2 371.0 646.3 375.2 648.5 378.5 C650.7 381.8 653.1 387.2 654.0 389.0" fill="none" stroke="#1a1a1a" stroke-width="1.0" stroke-linecap="round" stroke-linejoin="round"/>
<path d="M634.8 337.6 L674.5 370.5 L675.5 378.5 L636.5 345.5Z" fill="#fff" stroke="#1a1a1a" stroke-width="1.2" stroke-linejoin="round" />
<path d="M635.5 341.5 L675.0 374.5" fill="none" stroke="#1a1a1a" stroke-width="0.8" stroke-linecap="round" stroke-linejoin="round"/>
<path d="M674.5 370.5 L685.5 364.0 L686.5 371.5 L675.5 378.5Z" fill="#fff" stroke="#1a1a1a" stroke-width="1.1" stroke-linejoin="round" />
<path d="M677.0 374.0 L684.5 369.5" fill="none" stroke="#1a1a1a" stroke-width="0.8" stroke-linecap="round" stroke-linejoin="round"/>
<path d="M634.8 337.6 L646.0 331.6 L685.5 364.0 L674.5 370.5Z" fill="#fff" stroke="#1a1a1a" stroke-width="1.3" stroke-linejoin="round" />
<rect x="643.3" y="333.6" width="4.2" height="2.9" fill="#1a1a1a" transform="rotate(39 645.4 335.1)"/>
<rect x="639.2" y="335.8" width="4.2" height="2.9" fill="#1a1a1a" transform="rotate(39 641.3 337.3)"/>
<rect x="647.5" y="337.0" width="4.2" height="2.9" fill="#1a1a1a" transform="rotate(39 649.6 338.5)"/>
<rect x="643.4" y="339.2" width="4.2" height="2.9" fill="#1a1a1a" transform="rotate(39 645.5 340.7)"/>
<rect x="651.7" y="340.5" width="4.2" height="2.9" fill="#1a1a1a" transform="rotate(39 653.8 341.9)"/>
<rect x="655.8" y="343.9" width="4.2" height="2.9" fill="#1a1a1a" transform="rotate(39 657.9 345.3)"/>
<rect x="660.0" y="347.3" width="4.2" height="2.9" fill="#1a1a1a" transform="rotate(39 662.1 348.7)"/>
<rect x="655.9" y="349.5" width="4.2" height="2.9" fill="#1a1a1a" transform="rotate(39 658.0 351.0)"/>
<rect x="664.2" y="350.7" width="4.2" height="2.9" fill="#1a1a1a" transform="rotate(39 666.3 352.2)"/>
<rect x="660.1" y="352.9" width="4.2" height="2.9" fill="#1a1a1a" transform="rotate(39 662.2 354.4)"/>
<rect x="668.4" y="354.1" width="4.2" height="2.9" fill="#1a1a1a" transform="rotate(39 670.5 355.6)"/>
<rect x="664.2" y="356.4" width="4.2" height="2.9" fill="#1a1a1a" transform="rotate(39 666.3 357.8)"/>
<rect x="672.5" y="357.6" width="4.2" height="2.9" fill="#1a1a1a" transform="rotate(39 674.6 359.0)"/>
<rect x="668.4" y="359.8" width="4.2" height="2.9" fill="#1a1a1a" transform="rotate(39 670.5 361.2)"/>
<path d="M637 337 L646 332.5 L650 335.5" fill="none" stroke="#1a1a1a" stroke-width="1.4" stroke-linejoin="round" stroke-linecap="round" />
<path d="M640.0 362.0 L650.0 368.0 L660.0 372.0 L668.0 380.0 L672.0 386.0 L672.0 398.0 L668.0 405.0 L660.0 407.0 L651.0 405.0 L650.0 395.0 L652.0 385.0 L645.0 376.0 L638.0 370.0Z" fill="#1c1c1c" stroke="#1a1a1a" stroke-width="1.0" stroke-linejoin="round" />
<path d="M651.0 389.0 L659.0 387.5 L660.0 400.0 L652.0 401.0Z" fill="#fff" stroke="#1a1a1a" stroke-width="0.8" stroke-linejoin="round" />
<path d="M660.0 388.0 L668.0 387.0 L668.5 399.0 L660.5 400.0Z" fill="#fff" stroke="#1a1a1a" stroke-width="0.8" stroke-linejoin="round" />
<path d="M654.0 402.0 L661.0 401.0 L661.5 407.0 L654.5 407.5Z" fill="#fff" stroke="#1a1a1a" stroke-width="0.8" stroke-linejoin="round" />
<rect x="664" y="375" width="3" height="14" fill="#fff" stroke="#1a1a1a" stroke-width="0.6"/>
<path d="M676.0 376.0 L688.0 370.0 L700.0 368.5 L712.0 367.0 L721.0 365.5 L724.0 370.0 L724.5 384.0 L722.0 390.0 L712.0 393.0 L700.0 395.5 L690.0 397.0 L680.0 394.0 L676.5 388.0Z" fill="#1a1a1a" stroke="#1a1a1a" stroke-width="1.0" stroke-linejoin="round" />
<rect x="701" y="371" width="1.1" height="1.1" fill="#555"/>
<rect x="701" y="374" width="1.1" height="1.1" fill="#555"/>
<rect x="701" y="377" width="1.1" height="1.1" fill="#555"/>
<rect x="701" y="380" width="1.1" height="1.1" fill="#555"/>
<rect x="701" y="383" width="1.1" height="1.1" fill="#555"/>
<rect x="701" y="386" width="1.1" height="1.1" fill="#555"/>
<rect x="701" y="389" width="1.1" height="1.1" fill="#555"/>
<rect x="704" y="371" width="1.1" height="1.1" fill="#555"/>
<rect x="704" y="374" width="1.1" height="1.1" fill="#555"/>
<rect x="704" y="377" width="1.1" height="1.1" fill="#555"/>
<rect x="704" y="380" width="1.1" height="1.1" fill="#555"/>
<rect x="704" y="383" width="1.1" height="1.1" fill="#555"/>
<rect x="704" y="386" width="1.1" height="1.1" fill="#555"/>
<rect x="704" y="389" width="1.1" height="1.1" fill="#555"/>
<rect x="707" y="371" width="1.1" height="1.1" fill="#555"/>
<rect x="707" y="374" width="1.1" height="1.1" fill="#555"/>
<rect x="707" y="377" width="1.1" height="1.1" fill="#555"/>
<rect x="707" y="380" width="1.1" height="1.1" fill="#555"/>
<rect x="707" y="383" width="1.1" height="1.1" fill="#555"/>
<rect x="707" y="386" width="1.1" height="1.1" fill="#555"/>
<rect x="707" y="389" width="1.1" height="1.1" fill="#555"/>
<rect x="710" y="371" width="1.1" height="1.1" fill="#555"/>
<rect x="710" y="374" width="1.1" height="1.1" fill="#555"/>
<rect x="710" y="377" width="1.1" height="1.1" fill="#555"/>
<rect x="710" y="380" width="1.1" height="1.1" fill="#555"/>
<rect x="710" y="383" width="1.1" height="1.1" fill="#555"/>
<rect x="710" y="386" width="1.1" height="1.1" fill="#555"/>
<rect x="710" y="389" width="1.1" height="1.1" fill="#555"/>
<rect x="713" y="371" width="1.1" height="1.1" fill="#555"/>
<rect x="713" y="374" width="1.1" height="1.1" fill="#555"/>
<rect x="713" y="377" width="1.1" height="1.1" fill="#555"/>
<rect x="713" y="380" width="1.1" height="1.1" fill="#555"/>
<rect x="713" y="383" width="1.1" height="1.1" fill="#555"/>
<rect x="713" y="386" width="1.1" height="1.1" fill="#555"/>
<rect x="713" y="389" width="1.1" height="1.1" fill="#555"/>
<rect x="716" y="371" width="1.1" height="1.1" fill="#555"/>
<rect x="716" y="374" width="1.1" height="1.1" fill="#555"/>
<rect x="716" y="377" width="1.1" height="1.1" fill="#555"/>
<rect x="716" y="380" width="1.1" height="1.1" fill="#555"/>
<rect x="716" y="383" width="1.1" height="1.1" fill="#555"/>
<rect x="716" y="386" width="1.1" height="1.1" fill="#555"/>
<rect x="716" y="389" width="1.1" height="1.1" fill="#555"/>
<rect x="719" y="371" width="1.1" height="1.1" fill="#555"/>
<rect x="719" y="374" width="1.1" height="1.1" fill="#555"/>
<rect x="719" y="377" width="1.1" height="1.1" fill="#555"/>
<rect x="719" y="380" width="1.1" height="1.1" fill="#555"/>
<rect x="719" y="383" width="1.1" height="1.1" fill="#555"/>
<rect x="719" y="386" width="1.1" height="1.1" fill="#555"/>
<rect x="719" y="389" width="1.1" height="1.1" fill="#555"/>
<path d="M693.0 378.0 L700.0 376.0 L701.5 392.0 L694.5 394.0Z" fill="#fff" stroke="#1a1a1a" stroke-width="0.9" stroke-linejoin="round" />
<path d="M679.0 377.0 L690.0 372.0 L692.0 376.0 L681.0 381.0Z" fill="#fff" stroke="#1a1a1a" stroke-width="0.8" stroke-linejoin="round" />
<path d="M678.0 384.0 L690.0 381.0 L691.0 390.0 L679.0 392.0Z" fill="#1a1a1a" stroke="#1a1a1a" stroke-width="0.8" stroke-linejoin="round" />
<path d="M681.0 386.0 L688.0 384.5" fill="none" stroke="#fff" stroke-width="0.7" stroke-linecap="round" stroke-linejoin="round"/>
<path d="M664.0 405.0 C664.7 406.8 666.5 412.2 668.0 416.0 C669.5 419.8 671.8 424.0 673.0 428.0 C674.2 432.0 675.2 436.0 675.0 440.0 C674.8 444.0 673.3 448.3 672.0 452.0 C670.7 455.7 667.8 460.3 667.0 462.0" fill="none" stroke="#1a1a1a" stroke-width="10.50" stroke-linecap="butt" stroke-linejoin="round"/>
<path d="M664.0 405.0 C664.7 406.8 666.5 412.2 668.0 416.0 C669.5 419.8 671.8 424.0 673.0 428.0 C674.2 432.0 675.2 436.0 675.0 440.0 C674.8 444.0 673.3 448.3 672.0 452.0 C670.7 455.7 667.8 460.3 667.0 462.0" fill="none" stroke="#fff" stroke-width="8.00" stroke-linecap="butt" stroke-linejoin="round"/>
<path d="M667.0 461.0 C666.6 462.8 664.8 468.5 664.5 472.0 C664.2 475.5 664.4 479.1 665.5 482.0 C666.6 484.9 668.1 487.8 671.0 489.5 C673.9 491.2 678.5 492.7 683.0 492.5 C687.5 492.3 693.2 490.4 698.0 488.5 C702.8 486.6 708.0 483.3 712.0 481.0 C716.0 478.7 719.9 476.3 722.0 474.5 C724.1 472.7 724.1 470.8 724.5 470.0" fill="none" stroke="#1a1a1a" stroke-width="7.50" stroke-linecap="round" stroke-linejoin="round"/>
<path d="M667.0 461.0 C666.6 462.8 664.8 468.5 664.5 472.0 C664.2 475.5 664.4 479.1 665.5 482.0 C666.6 484.9 668.1 487.8 671.0 489.5 C673.9 491.2 678.5 492.7 683.0 492.5 C687.5 492.3 693.2 490.4 698.0 488.5 C702.8 486.6 708.0 483.3 712.0 481.0 C716.0 478.7 719.9 476.3 722.0 474.5 C724.1 472.7 724.1 470.8 724.5 470.0" fill="none" stroke="#fff" stroke-width="5.00" stroke-linecap="round" stroke-linejoin="round"/>
<path d="M535.0 449.0 C536.3 448.5 539.0 446.2 543.0 446.0 C547.0 445.8 553.7 446.5 559.0 448.0 C564.3 449.5 569.7 452.5 575.0 455.0 C580.3 457.5 585.7 462.0 591.0 463.0 C596.3 464.0 602.3 461.7 607.0 461.0 C611.7 460.3 614.3 458.8 619.0 459.0 C623.7 459.2 629.8 461.2 635.0 462.0 C640.2 462.8 645.0 463.3 650.0 464.0 C655.0 464.7 660.0 465.3 665.0 466.0 C670.0 466.7 675.5 467.3 680.0 468.0 C684.5 468.7 690.0 469.7 692.0 470.0" fill="none" stroke="#1a1a1a" stroke-width="7.10" stroke-linecap="round" stroke-linejoin="round"/>
<path d="M535.0 449.0 C536.3 448.5 539.0 446.2 543.0 446.0 C547.0 445.8 553.7 446.5 559.0 448.0 C564.3 449.5 569.7 452.5 575.0 455.0 C580.3 457.5 585.7 462.0 591.0 463.0 C596.3 464.0 602.3 461.7 607.0 461.0 C611.7 460.3 614.3 458.8 619.0 459.0 C623.7 459.2 629.8 461.2 635.0 462.0 C640.2 462.8 645.0 463.3 650.0 464.0 C655.0 464.7 660.0 465.3 665.0 466.0 C670.0 466.7 675.5 467.3 680.0 468.0 C684.5 468.7 690.0 469.7 692.0 470.0" fill="none" stroke="#fff" stroke-width="4.60" stroke-linecap="round" stroke-linejoin="round"/>
<path d="M676.0 451.5 C677.0 450.7 679.5 447.8 682.0 446.5 C684.5 445.2 688.0 444.4 691.0 443.8 C694.0 443.2 697.3 443.0 700.0 443.2 C702.7 443.4 705.8 444.7 707.0 445.0" fill="none" stroke="#1a1a1a" stroke-width="5.90" stroke-linecap="round" stroke-linejoin="round"/>
<path d="M676.0 451.5 C677.0 450.7 679.5 447.8 682.0 446.5 C684.5 445.2 688.0 444.4 691.0 443.8 C694.0 443.2 697.3 443.0 700.0 443.2 C702.7 443.4 705.8 444.7 707.0 445.0" fill="none" stroke="#fff" stroke-width="3.40" stroke-linecap="round" stroke-linejoin="round"/>
<path d="M690.5 447.0 L697.0 445.5 L706.0 445.8 L712.0 448.0 L712.5 468.0 L710.0 473.5 L699.0 474.5 L691.5 472.0Z" fill="#fff" stroke="#1a1a1a" stroke-width="1.6" stroke-linejoin="round" />
<path d="M690.8 447.5 L712.0 448.5 L712.0 451.0 L691.0 450.0Z" fill="#1a1a1a" stroke="none" stroke-width="1.0" stroke-linejoin="round" />
<path d="M696.0 450.0 L698.5 450.0 L698.5 474.0 L696.0 474.0Z" fill="#1a1a1a" stroke="none" stroke-width="1.0" stroke-linejoin="round" />
<path d="M704.0 449.0 L706.5 449.0 L706.5 474.0 L704.0 474.0Z" fill="#1a1a1a" stroke="none" stroke-width="1.0" stroke-linejoin="round" />
<path d="M706.5 449.0 L712.0 449.0 L712.0 473.0 L706.5 473.5Z" fill="#222" stroke="none" stroke-width="1.0" stroke-linejoin="round" />
<rect x="707.8" y="452" width="2.4" height="2" fill="#fff"/>
<rect x="707.8" y="457" width="2.4" height="2" fill="#fff"/>
<rect x="707.8" y="462" width="2.4" height="2" fill="#fff"/>
<rect x="707.8" y="467" width="2.4" height="2" fill="#fff"/>
<path d="M698.5 450.0 L704.0 450.0 L704.0 455.0 L698.5 455.0Z" fill="#333" stroke="none" stroke-width="1.0" stroke-linejoin="round" />
<path d="M698.5 456.5 L704.0 456.5" fill="none" stroke="#1a1a1a" stroke-width="1.2" stroke-linecap="round" stroke-linejoin="round"/>
<path d="M698.5 461.5 L704.0 461.5" fill="none" stroke="#1a1a1a" stroke-width="1.2" stroke-linecap="round" stroke-linejoin="round"/>
<path d="M698.5 466.5 L704.0 466.5" fill="none" stroke="#1a1a1a" stroke-width="1.2" stroke-linecap="round" stroke-linejoin="round"/>
<path d="M691.0 460.0 L696.0 460.0" fill="none" stroke="#1a1a1a" stroke-width="1.6" stroke-linecap="round" stroke-linejoin="round"/>
<path d="M691.0 470.0 L712.0 470.0" fill="none" stroke="#1a1a1a" stroke-width="1.4" stroke-linecap="round" stroke-linejoin="round"/>
<rect x="692" y="463" width="3" height="5" fill="#444"/>
<path d="M705.4 429.0 L714.8 428.4 L715.2 442.0 L705.8 442.3Z" fill="#1c1c1c" stroke="#1a1a1a" stroke-width="1.0" stroke-linejoin="round" />
<rect x="707" y="430.5" width="3" height="3" fill="#fff"/><rect x="711" y="431" width="2.5" height="2.5" fill="#ddd"/>
<rect x="707.5" y="438" width="2.4" height="2" fill="#fff"/><rect x="711" y="438.5" width="2.4" height="2" fill="#fff"/>
<path d="M710.0 442.0 L710.0 447.0" fill="none" stroke="#1a1a1a" stroke-width="1.4" stroke-linecap="round" stroke-linejoin="round"/>
<path d="M716.0 437.5 C719.2 437.8 730.0 438.3 735.0 439.0 C740.0 439.7 742.2 440.6 746.0 441.5 C749.8 442.4 755.6 444.0 757.5 444.5" fill="none" stroke="#1a1a1a" stroke-width="4.10" stroke-linecap="round" stroke-linejoin="round"/>
<path d="M716.0 437.5 C719.2 437.8 730.0 438.3 735.0 439.0 C740.0 439.7 742.2 440.6 746.0 441.5 C749.8 442.4 755.6 444.0 757.5 444.5" fill="none" stroke="#999" stroke-width="1.60" stroke-linecap="round" stroke-linejoin="round"/>
<path d="M744.0 440.0 L751.0 438.5 L757.0 442.0 L757.5 446.0 L751.0 447.5 L745.0 446.0Z" fill="#1c1c1c" stroke="#1a1a1a" stroke-width="1.0" stroke-linejoin="round" />
<rect x="748" y="442" width="3" height="1.6" fill="#fff"/>
<path d="M716.0 441.0 C717.3 441.3 721.8 442.2 724.0 443.0 C726.2 443.8 728.2 445.5 729.0 446.0" fill="none" stroke="#1a1a1a" stroke-width="1.3" stroke-linecap="round" stroke-linejoin="round"/>
<path d="M726.0 446.0 L733.0 444.5 L740.0 446.5 L741.0 452.0 L734.0 453.5 L727.0 452.0Z" fill="#1c1c1c" stroke="#1a1a1a" stroke-width="1.0" stroke-linejoin="round" />
<rect x="731" y="448" width="3" height="1.6" fill="#fff"/>
<path d="M675.5 456.0 L682.0 452.5 L690.0 456.5 L689.0 463.0 L682.0 464.0 L676.0 461.0Z" fill="#1c1c1c" stroke="#1a1a1a" stroke-width="1.0" stroke-linejoin="round" />
<circle cx="683" cy="458.5" r="1.5" fill="#fff"/>
<ellipse cx="717" cy="468.5" rx="4.6" ry="3.4" fill="#1c1c1c" transform="rotate(-25 717 468.5)"/>
<ellipse cx="718.5" cy="467.5" rx="1.8" ry="1.3" fill="#fff"/><circle cx="714.5" cy="470" r="0.8" fill="#fff"/>
<circle cx="667" cy="466" r="3" fill="#fff" stroke="#1a1a1a" stroke-width="1.1"/>
<path d="M665.0 470.0 C664.8 471.7 663.9 476.7 664.0 480.0 C664.1 483.3 665.2 488.3 665.5 490.0" fill="none" stroke="#1a1a1a" stroke-width="1.0" stroke-linecap="round" stroke-linejoin="round"/>
<path d="M663.0 497.0 L668.0 488.0 L672.0 490.0 L667.0 500.0Z" fill="#1c1c1c" stroke="#1a1a1a" stroke-width="1.0" stroke-linejoin="round" />
<path d="M665.0 495.0 L669.0 489.5" fill="none" stroke="#fff" stroke-width="0.6" stroke-linecap="round" stroke-linejoin="round"/>
<path d="M483.0 409.0 C485.0 408.3 491.3 406.0 495.0 405.0 C498.7 404.0 502.0 402.3 505.0 402.8 C508.0 403.3 510.3 404.6 513.0 408.0 C515.7 411.4 518.3 418.7 521.0 423.5 C523.7 428.3 526.7 432.9 529.0 437.0 C531.3 441.1 534.0 446.2 535.0 448.0" fill="none" stroke="#1a1a1a" stroke-width="6.30" stroke-linecap="round" stroke-linejoin="round"/>
<path d="M483.0 409.0 C485.0 408.3 491.3 406.0 495.0 405.0 C498.7 404.0 502.0 402.3 505.0 402.8 C508.0 403.3 510.3 404.6 513.0 408.0 C515.7 411.4 518.3 418.7 521.0 423.5 C523.7 428.3 526.7 432.9 529.0 437.0 C531.3 441.1 534.0 446.2 535.0 448.0" fill="none" stroke="#fff" stroke-width="3.80" stroke-linecap="round" stroke-linejoin="round"/>
<path d="M521.0 445.0 C522.0 446.0 524.7 449.7 527.0 451.0 C529.3 452.3 533.7 452.7 535.0 453.0" fill="none" stroke="#1a1a1a" stroke-width="5.50" stroke-linecap="round" stroke-linejoin="round"/>
<path d="M521.0 445.0 C522.0 446.0 524.7 449.7 527.0 451.0 C529.3 452.3 533.7 452.7 535.0 453.0" fill="none" stroke="#fff" stroke-width="3.00" stroke-linecap="round" stroke-linejoin="round"/>
<g transform="translate(473.5,408.5) rotate(-22)">
<rect x="-10" y="-7" width="17" height="14" rx="3" fill="#fff" stroke="#1a1a1a" stroke-width="1.2"/>
<path d="M-6 -6.5 L-6 6.5 M-4.5 -6.5 L-4.5 6.5" stroke="#1a1a1a" stroke-width="0.7"/>
<rect x="-2" y="-7" width="6" height="11" fill="#1a1a1a"/>
<path d="M4 -4 Q10 -3 10 1 Q10 5 4 5 Z" fill="#fff" stroke="#1a1a1a" stroke-width="1.1"/>
<path d="M2 -2 Q5 -1 4 2 Q3 4 1 3" fill="none" stroke="#fff" stroke-width="0.9"/>
</g>
<path d="M511.0 433.0 L517.0 429.5 L523.0 433.0 L525.0 441.0 L520.0 445.0 L513.0 444.0 L510.0 439.0Z" fill="#1c1c1c" stroke="#1a1a1a" stroke-width="1.0" stroke-linejoin="round" />
<path d="M507.0 432.5 L512.0 430.5 L514.0 437.0 L509.0 438.5Z" fill="#fff" stroke="#1a1a1a" stroke-width="0.9" stroke-linejoin="round" />
<path d="M504.0 436.0 L508.0 435.0" fill="none" stroke="#1a1a1a" stroke-width="1.0" stroke-linecap="round" stroke-linejoin="round"/>
<circle cx="518" cy="438" r="1.3" fill="#fff"/>
<path d="M549.0 437.5 L553.0 435.5 L557.5 440.0 L554.0 444.0 L550.0 442.0Z" fill="#fff" stroke="#1a1a1a" stroke-width="1" stroke-linejoin="round" />
<path d="M551.0 439.0 L554.0 441.5" fill="none" stroke="#1a1a1a" stroke-width="0.8" stroke-linecap="round" stroke-linejoin="round"/>
<path d="M556.0 442.5 C556.8 443.1 559.5 445.1 561.0 446.0 C562.5 446.9 564.3 447.7 565.0 448.0" fill="none" stroke="#1a1a1a" stroke-width="4.10" stroke-linecap="round" stroke-linejoin="round"/>
<path d="M556.0 442.5 C556.8 443.1 559.5 445.1 561.0 446.0 C562.5 446.9 564.3 447.7 565.0 448.0" fill="none" stroke="#fff" stroke-width="1.60" stroke-linecap="round" stroke-linejoin="round"/>
<path d="M563.0 448.0 L567.0 446.5 L569.5 454.0 L565.5 455.5Z" fill="#fff" stroke="#1a1a1a" stroke-width="1" stroke-linejoin="round" />
<path d="M595.0 452.0 L600.0 446.0 L607.0 444.5 L612.0 448.0 L614.5 455.0 L609.0 459.0 L600.0 459.5 L596.0 457.0Z" fill="#1c1c1c" stroke="#1a1a1a" stroke-width="1.0" stroke-linejoin="round" />
<path d="M597.0 451.0 L603.0 448.5 L604.0 454.0 L598.0 456.0Z" fill="#fff" stroke="none" stroke-width="1.0" stroke-linejoin="round" />
<circle cx="608.5" cy="452" r="1.3" fill="#fff"/>
<path d="M617.0 456.0 L621.0 455.0 L622.0 463.0 L618.0 464.0Z" fill="#fff" stroke="#1a1a1a" stroke-width="1" stroke-linejoin="round" />
<rect x="168.3" y="212.3" width="22.4" height="58.7" fill="#fff" stroke="#1a1a1a" stroke-width="1.1"/>
<path d="M168.3 231.8 L190.7 231.8" fill="none" stroke="#666" stroke-width="0.9" stroke-linecap="round" stroke-linejoin="round"/>
<path d="M168.3 251.2 L190.7 251.2" fill="none" stroke="#1a1a1a" stroke-width="1.1" stroke-linecap="round" stroke-linejoin="round"/>
<text x="179.5" y="215.5" text-anchor="middle" textLength="2.5" lengthAdjust="spacingAndGlyphs" style="font-size:3.2px;font-weight:bold;fill:#222">U</text>
<text x="179.5" y="219.8" text-anchor="middle" textLength="15.5" lengthAdjust="spacingAndGlyphs" style="font-size:4.3px;font-weight:bold;fill:#222">CHASSIS</text>
<text x="179.5" y="222.8" text-anchor="middle" textLength="8" lengthAdjust="spacingAndGlyphs" style="font-size:2.6px;font-weight:bold;fill:#222">MAIN</text>
<text x="179.5" y="227.2" text-anchor="middle" textLength="19" lengthAdjust="spacingAndGlyphs" style="font-size:4.0px;font-weight:bold;fill:#222">60A FUSE</text>
<text x="179.5" y="231.2" text-anchor="middle" textLength="9" lengthAdjust="spacingAndGlyphs" style="font-size:2.4px;font-weight:bold;fill:#222">xxxxxx</text>
<text x="179.5" y="238" text-anchor="middle" textLength="7" lengthAdjust="spacingAndGlyphs" style="font-size:2.8px;font-weight:bold;fill:#222">ABS</text>
<text x="179.5" y="242" text-anchor="middle" textLength="11" lengthAdjust="spacingAndGlyphs" style="font-size:3.4px;font-weight:bold;fill:#222">MOTOR</text>
<text x="179.5" y="246.8" text-anchor="middle" textLength="19" lengthAdjust="spacingAndGlyphs" style="font-size:4.0px;font-weight:bold;fill:#222">30A FUSE</text>
<text x="179.5" y="250.8" text-anchor="middle" textLength="8" lengthAdjust="spacingAndGlyphs" style="font-size:2.4px;font-weight:bold;fill:#222">xxxxx</text>
<text x="179.5" y="256.2" text-anchor="middle" textLength="13" lengthAdjust="spacingAndGlyphs" style="font-size:3.8px;font-weight:bold;fill:#222">ENGINE</text>
<text x="179.5" y="259.3" text-anchor="middle" textLength="8" lengthAdjust="spacingAndGlyphs" style="font-size:2.6px;font-weight:bold;fill:#222">MAIN</text>
<text x="179.5" y="263.7" text-anchor="middle" textLength="19" lengthAdjust="spacingAndGlyphs" style="font-size:4.0px;font-weight:bold;fill:#222">40A FUSE</text>
<text x="179.5" y="267" text-anchor="middle" textLength="8" lengthAdjust="spacingAndGlyphs" style="font-size:2.2px;font-weight:bold;fill:#222">xxxxx</text>
<text x="179.5" y="270" text-anchor="middle" textLength="2" lengthAdjust="spacingAndGlyphs" style="font-size:2px;font-weight:bold;fill:#222">x</text>
<path d="M189.5 278.5 L206.0 278.5 L206.0 288.5 L189.5 288.5Z" fill="#fff" stroke="#1a1a1a" stroke-width="1" stroke-linejoin="round" />
<path d="M189.5 281.8 L206.0 281.8" fill="none" stroke="#1a1a1a" stroke-width="0.8" stroke-linecap="round" stroke-linejoin="round"/>
<path d="M189.5 285.2 L206.0 285.2" fill="none" stroke="#1a1a1a" stroke-width="0.8" stroke-linecap="round" stroke-linejoin="round"/>
<path d="M207 256 Q207 254.5 208.5 254.5 L325 254.5 L325.5 301 L206 301 Z" fill="#fff" stroke="#1a1a1a" stroke-width="1.2" stroke-linejoin="round" stroke-linecap="round" />
<path d="M205.5 257.0 L205.5 300.0" fill="none" stroke="#1a1a1a" stroke-width="1.0" stroke-linecap="round" stroke-linejoin="round"/>
<path d="M225.0 255.0 L225.0 301.0" fill="none" stroke="#1a1a1a" stroke-width="0.9" stroke-linecap="round" stroke-linejoin="round"/>
<path d="M207.0 256.5 L225.0 256.5" fill="none" stroke="#666" stroke-width="0.8" stroke-linecap="round" stroke-linejoin="round"/>
<rect x="292" y="251.8" width="3.5" height="3" fill="#fff" stroke="#1a1a1a" stroke-width="0.8"/>
<rect x="277.7" y="301" width="6" height="5" fill="#fff" stroke="#1a1a1a" stroke-width="0.9"/>
<circle cx="218.2" cy="272.2" r="4.6" fill="#fff" stroke="#1a1a1a" stroke-width="1.4"/>
<circle cx="218.2" cy="272.2" r="2.6" fill="#fff" stroke="#1a1a1a" stroke-width="0.8"/>
<rect x="230.5" y="261.5" width="71.5" height="32.5" rx="16" fill="#fff" stroke="#111" stroke-width="2.8"/>
<rect x="234.5" y="265" width="63.5" height="25.5" rx="12.7" fill="#fff" stroke="#1a1a1a" stroke-width="1.1"/>
<rect x="237.5" y="267.5" width="57.5" height="20.5" rx="10" fill="#fff" stroke="#111" stroke-width="1.8"/>
<rect x="249.6" y="268.8" width="12.5" height="17.9" fill="#fff" stroke="#111" stroke-width="1.3"/>
<rect x="264.2" y="268.8" width="12.5" height="17.9" fill="#fff" stroke="#111" stroke-width="1.3"/>
<rect x="279.2" y="268.8" width="12.5" height="17.9" fill="#fff" stroke="#111" stroke-width="1.3"/>
<rect x="261.8" y="268.5" width="2.6" height="18.5" fill="#222"/>
<rect x="276.6" y="268.5" width="2.6" height="18.5" fill="#222"/>
<text x="255.8" y="273.5" text-anchor="middle" style="font-size:4px;font-weight:bold;fill:#333">50</text>
<text x="255.8" y="284.3" text-anchor="middle" style="font-size:4px;font-weight:bold;fill:#333">50</text>
<text x="270.7" y="273.5" text-anchor="middle" style="font-size:4px;font-weight:bold;fill:#333">50</text>
<text x="270.7" y="284.3" text-anchor="middle" style="font-size:4px;font-weight:bold;fill:#333">50</text>
<text x="285.5" y="273.5" text-anchor="middle" style="font-size:4px;font-weight:bold;fill:#333">40</text>
<text x="285.5" y="284.3" text-anchor="middle" style="font-size:4px;font-weight:bold;fill:#333">40</text>
<path d="M249.5 270 Q240 271 240 277.8 Q240 284.5 249.5 286" fill="none" stroke="#1a1a1a" stroke-width="1.6"/>
<path d="M246 273 L246 283" stroke="#1a1a1a" stroke-width="1.2"/>
<path d="M293 270 Q297 272 297 278 Q297 284 293 286" fill="none" stroke="#1a1a1a" stroke-width="1.2"/>
<path d="M304.0 293.5 L322.5 293.5 L322.5 301.0" fill="none" stroke="#1a1a1a" stroke-width="0.9" stroke-linecap="round" stroke-linejoin="round"/>
<path d="M300.5 277.0 L306.0 273.5 L318.0 273.5 L323.0 277.0 L323.0 290.5 L318.0 293.5 L303.0 293.5 L300.5 290.0Z" fill="#fff" stroke="#1a1a1a" stroke-width="1.1" stroke-linejoin="round" />
<path d="M304.0 280.0 L312.0 279.5 L312.5 289.0 L304.0 289.5Z" fill="#fff" stroke="#1a1a1a" stroke-width="0.9" stroke-linejoin="round" />
<rect x="305.5" y="281.2" width="2" height="2.3" fill="#1a1a1a"/>
<rect x="308.5" y="281.2" width="2" height="2.3" fill="#1a1a1a"/>
<rect x="305.5" y="285.5" width="2" height="2.3" fill="#1a1a1a"/>
<rect x="308.5" y="285.5" width="2" height="2.3" fill="#1a1a1a"/>
<path d="M313.0 276.0 L322.0 276.0 L322.0 283.0 L313.0 283.0Z" fill="#1c1c1c" stroke="none" stroke-width="1.0" stroke-linejoin="round" />
<path d="M313.0 285.0 L322.0 285.0 L322.0 291.0 L313.0 291.0Z" fill="#fff" stroke="#1a1a1a" stroke-width="0.8" stroke-linejoin="round" />
<path d="M323.5 271.0 L330.0 269.0 L337.0 275.0 L345.0 276.0 L354.5 275.0 L355.0 293.0 L345.0 296.0 L333.0 295.0 L324.0 293.0Z" fill="#fff" stroke="#1a1a1a" stroke-width="1.1" stroke-linejoin="round" />
<path d="M325.0 276.0 L338.0 277.0 L338.0 292.0 L325.0 292.0Z" fill="#1c1c1c" stroke="none" stroke-width="1.0" stroke-linejoin="round" />
<path d="M328.0 281.0 L334.0 281.0 L334.0 289.0 L328.0 289.0Z" fill="#fff" stroke="#1a1a1a" stroke-width="0.6" stroke-linejoin="round" />
<path d="M340.0 279.0 L346.0 279.5 L346.5 292.0 L340.0 292.0Z" fill="#fff" stroke="#1a1a1a" stroke-width="0.9" stroke-linejoin="round" />
<path d="M348.0 278.0 C348.7 277.8 351.0 276.2 352.0 277.0 C353.0 277.8 354.0 280.5 354.0 283.0 C354.0 285.5 353.0 290.3 352.0 292.0 C351.0 293.7 348.7 292.8 348.0 293.0" fill="none" stroke="#1a1a1a" stroke-width="1.0" stroke-linecap="round" stroke-linejoin="round"/>
<path d="M330.0 269.0 C329.3 268.4 326.2 266.0 326.0 265.5 C325.8 265.0 328.5 265.9 329.0 266.0" fill="none" stroke="#1a1a1a" stroke-width="0.9" stroke-linecap="round" stroke-linejoin="round"/>
<rect x="234.6" y="336.3" width="93.2" height="33" fill="#fff" stroke="#1a1a1a" stroke-width="1.1"/>
<text x="241.7" y="340.6" textLength="3.6" style="font-size:3.0px;font-weight:bold;fill:#222" text-anchor="middle" lengthAdjust="spacingAndGlyphs">25A</text>
<text x="241.7" y="342.6" textLength="7" style="font-size:1.7px;font-weight:bold;fill:#222" text-anchor="middle" lengthAdjust="spacingAndGlyphs">xxxxxxx</text>
<text x="241.7" y="344.20000000000005" textLength="3.5" style="font-size:1.5px;font-weight:bold;fill:#222" text-anchor="middle" lengthAdjust="spacingAndGlyphs">xxxx</text>
<text x="241.7" y="348.4" textLength="3.6" style="font-size:3.0px;font-weight:bold;fill:#222" text-anchor="middle" lengthAdjust="spacingAndGlyphs">25A</text>
<text x="241.7" y="350.4" textLength="7" style="font-size:1.7px;font-weight:bold;fill:#222" text-anchor="middle" lengthAdjust="spacingAndGlyphs">xxxxxxx</text>
<text x="241.7" y="352.0" textLength="3.5" style="font-size:1.5px;font-weight:bold;fill:#222" text-anchor="middle" lengthAdjust="spacingAndGlyphs">xxxx</text>
<text x="241.7" y="356.6" textLength="3.6" style="font-size:3.0px;font-weight:bold;fill:#222" text-anchor="middle" lengthAdjust="spacingAndGlyphs">25A</text>
<text x="241.7" y="358.6" textLength="7" style="font-size:1.7px;font-weight:bold;fill:#222" text-anchor="middle" lengthAdjust="spacingAndGlyphs">xxxxxxx</text>
<text x="241.7" y="360.20000000000005" textLength="3.5" style="font-size:1.5px;font-weight:bold;fill:#222" text-anchor="middle" lengthAdjust="spacingAndGlyphs">xxxx</text>
<text x="241.7" y="364.4" textLength="3.6" style="font-size:3.0px;font-weight:bold;fill:#222" text-anchor="middle" lengthAdjust="spacingAndGlyphs">25A</text>
<text x="241.7" y="366.4" textLength="7" style="font-size:1.7px;font-weight:bold;fill:#222" text-anchor="middle" lengthAdjust="spacingAndGlyphs">xxxxxxx</text>
<text x="241.7" y="368.0" textLength="3.5" style="font-size:1.5px;font-weight:bold;fill:#222" text-anchor="middle" lengthAdjust="spacingAndGlyphs">xxxx</text>
<text x="257.6" y="340.6" textLength="3.6" style="font-size:3.0px;font-weight:bold;fill:#222" text-anchor="middle" lengthAdjust="spacingAndGlyphs">25A</text>
<text x="257.6" y="342.6" textLength="9" style="font-size:1.7px;font-weight:bold;fill:#222" text-anchor="middle" lengthAdjust="spacingAndGlyphs">xxxxxxx</text>
<text x="257.6" y="344.20000000000005" textLength="3.5" style="font-size:1.5px;font-weight:bold;fill:#222" text-anchor="middle" lengthAdjust="spacingAndGlyphs">xxxx</text>
<text x="257.6" y="348.4" textLength="3.6" style="font-size:3.0px;font-weight:bold;fill:#222" text-anchor="middle" lengthAdjust="spacingAndGlyphs">25A</text>
<text x="257.6" y="350.4" textLength="9" style="font-size:1.7px;font-weight:bold;fill:#222" text-anchor="middle" lengthAdjust="spacingAndGlyphs">xxxxxxx</text>
<text x="257.6" y="352.0" textLength="3.5" style="font-size:1.5px;font-weight:bold;fill:#222" text-anchor="middle" lengthAdjust="spacingAndGlyphs">xxxx</text>
<text x="257.6" y="356.6" textLength="3.6" style="font-size:3.0px;font-weight:bold;fill:#222" text-anchor="middle" lengthAdjust="spacingAndGlyphs">25A</text>
<text x="257.6" y="358.6" textLength="9" style="font-size:1.7px;font-weight:bold;fill:#222" text-anchor="middle" lengthAdjust="spacingAndGlyphs">xxxxxxx</text>
<text x="257.6" y="360.20000000000005" textLength="3.5" style="font-size:1.5px;font-weight:bold;fill:#222" text-anchor="middle" lengthAdjust="spacingAndGlyphs">xxxx</text>
<text x="257.6" y="364.4" textLength="3.6" style="font-size:3.0px;font-weight:bold;fill:#222" text-anchor="middle" lengthAdjust="spacingAndGlyphs">25A</text>
<text x="257.6" y="366.4" textLength="9" style="font-size:1.7px;font-weight:bold;fill:#222" text-anchor="middle" lengthAdjust="spacingAndGlyphs">xxxxxxx</text>
<text x="257.6" y="368.0" textLength="3.5" style="font-size:1.5px;font-weight:bold;fill:#222" text-anchor="middle" lengthAdjust="spacingAndGlyphs">xxxx</text>
<text x="272.9" y="364.4" textLength="3.6" style="font-size:3.0px;font-weight:bold;fill:#222" text-anchor="middle" lengthAdjust="spacingAndGlyphs">25A</text>
<text x="272.9" y="366.4" textLength="9" style="font-size:1.7px;font-weight:bold;fill:#222" text-anchor="middle" lengthAdjust="spacingAndGlyphs">xxxxxxx</text>
<text x="272.9" y="368" textLength="3.5" style="font-size:1.5px;font-weight:bold;fill:#222" text-anchor="middle" lengthAdjust="spacingAndGlyphs">xxxx</text>
<text x="289.2" y="340.8" textLength="15" style="font-size:3.6px;font-weight:bold;fill:#222" text-anchor="middle" lengthAdjust="spacingAndGlyphs">SWITCHED</text>
<text x="289.2" y="344.90000000000003" textLength="10.0" style="font-size:3.6px;font-weight:bold;fill:#222" text-anchor="middle" lengthAdjust="spacingAndGlyphs">POWER</text>
<text x="289.2" y="349.0" textLength="10.0" style="font-size:3.6px;font-weight:bold;fill:#222" text-anchor="middle" lengthAdjust="spacingAndGlyphs">RELAY</text>
<text x="303.5" y="340.8" textLength="6.0" style="font-size:3.6px;font-weight:bold;fill:#222" text-anchor="middle" lengthAdjust="spacingAndGlyphs">ABS</text>
<text x="303.5" y="344.90000000000003" textLength="12.0" style="font-size:3.6px;font-weight:bold;fill:#222" text-anchor="middle" lengthAdjust="spacingAndGlyphs">ENGINE</text>
<text x="303.5" y="349.0" textLength="10.0" style="font-size:3.6px;font-weight:bold;fill:#222" text-anchor="middle" lengthAdjust="spacingAndGlyphs">RELAY</text>
<text x="320.3" y="340.8" textLength="8.0" style="font-size:3.6px;font-weight:bold;fill:#222" text-anchor="middle" lengthAdjust="spacingAndGlyphs">FUEL</text>
<text x="320.3" y="344.90000000000003" textLength="8.0" style="font-size:3.6px;font-weight:bold;fill:#222" text-anchor="middle" lengthAdjust="spacingAndGlyphs">PUMP</text>
<text x="320.3" y="349.0" textLength="10.0" style="font-size:3.6px;font-weight:bold;fill:#222" text-anchor="middle" lengthAdjust="spacingAndGlyphs">RELAY</text>
<text x="289.2" y="356.6" textLength="6.0" style="font-size:3.6px;font-weight:bold;fill:#222" text-anchor="middle" lengthAdjust="spacingAndGlyphs">ABS</text>
<text x="289.2" y="360.70000000000005" textLength="10.0" style="font-size:3.6px;font-weight:bold;fill:#222" text-anchor="middle" lengthAdjust="spacingAndGlyphs">POWER</text>
<text x="289.2" y="364.8" textLength="10.0" style="font-size:3.6px;font-weight:bold;fill:#222" text-anchor="middle" lengthAdjust="spacingAndGlyphs">RELAY</text>
<text x="303.5" y="360.70000000000005" textLength="10.0" style="font-size:3.6px;font-weight:bold;fill:#222" text-anchor="middle" lengthAdjust="spacingAndGlyphs">START</text>
<text x="303.5" y="364.8" textLength="10.0" style="font-size:3.6px;font-weight:bold;fill:#222" text-anchor="middle" lengthAdjust="spacingAndGlyphs">RELAY</text>
<text x="320.3" y="356.6" textLength="8.0" style="font-size:3.6px;font-weight:bold;fill:#222" text-anchor="middle" lengthAdjust="spacingAndGlyphs">MAIN</text>
<text x="320.3" y="360.70000000000005" textLength="12.0" style="font-size:3.6px;font-weight:bold;fill:#222" text-anchor="middle" lengthAdjust="spacingAndGlyphs">ENGINE</text>
<text x="320.3" y="364.8" textLength="10.0" style="font-size:3.6px;font-weight:bold;fill:#222" text-anchor="middle" lengthAdjust="spacingAndGlyphs">RELAY</text>
<text x="286.5" y="351.5" textLength="3" style="font-size:1.8px;font-weight:bold;fill:#222" text-anchor="middle" lengthAdjust="spacingAndGlyphs">xxx</text>
<text x="286.5" y="367.5" textLength="3" style="font-size:1.8px;font-weight:bold;fill:#222" text-anchor="middle" lengthAdjust="spacingAndGlyphs">xxx</text>
<text x="299" y="351.5" textLength="3" style="font-size:1.8px;font-weight:bold;fill:#222" text-anchor="middle" lengthAdjust="spacingAndGlyphs">xxx</text>
<text x="299" y="367.5" textLength="3" style="font-size:1.8px;font-weight:bold;fill:#222" text-anchor="middle" lengthAdjust="spacingAndGlyphs">xxx</text>
<text x="312" y="351.5" textLength="3" style="font-size:1.8px;font-weight:bold;fill:#222" text-anchor="middle" lengthAdjust="spacingAndGlyphs">xxx</text>
<text x="312" y="367.5" textLength="3" style="font-size:1.8px;font-weight:bold;fill:#222" text-anchor="middle" lengthAdjust="spacingAndGlyphs">xxx</text>
<path d="M192 399 L206 399 L218 405 L218 444.5 L192 444.5 Z" fill="#fff" stroke="#1a1a1a" stroke-width="1.1" stroke-linejoin="round" stroke-linecap="round" />
<path d="M195.5 401.0 L195.5 444.0" fill="none" stroke="#1a1a1a" stroke-width="0.8" stroke-linecap="round" stroke-linejoin="round"/>
<circle cx="202.3" cy="430.3" r="5.3" fill="#fff" stroke="#1a1a1a" stroke-width="1.2"/>
<rect x="208.3" y="419.8" width="5" height="20" fill="#fff" stroke="#1a1a1a" stroke-width="0.9"/>
<path d="M333 398.6 L359.4 398.6 L359.4 446 L333 446 Z" fill="#fff" stroke="#1a1a1a" stroke-width="1.1" stroke-linejoin="round" stroke-linecap="round" />
<path d="M356.5 400.0 L356.5 445.0" fill="none" stroke="#1a1a1a" stroke-width="0.8" stroke-linecap="round" stroke-linejoin="round"/>
<circle cx="348" cy="429.8" r="6" fill="#fff" stroke="#1a1a1a" stroke-width="1.2"/>
<rect x="336" y="420" width="3.5" height="20" fill="#fff" stroke="#1a1a1a" stroke-width="0.9"/>
<path d="M359 412.4 L376.8 407.6 L391.2 403.4 L394.2 425.6 L388.8 440 L382.8 462.8 L356.4 462.8 Z" fill="#fff" stroke="#1a1a1a" stroke-width="1.1" stroke-linejoin="round" stroke-linecap="round" />
<path d="M328 447 Q330 462.8 341 462.8 Q351 462.8 353.5 447" fill="#fff" stroke="#1a1a1a" stroke-width="1.1" stroke-linejoin="round" stroke-linecap="round" />
<path d="M353.5 447 Q356 462.8 368 462.8" fill="none" stroke="#1a1a1a" stroke-width="1.1" stroke-linejoin="round" stroke-linecap="round" />
<path d="M353.5 448.0 L353.5 460.0" fill="none" stroke="#444" stroke-width="1.4" stroke-linecap="round" stroke-linejoin="round"/>
<rect x="377" y="413.5" width="15" height="21.5" fill="#fff" stroke="#1a1a1a" stroke-width="1.1"/>
<rect x="377" y="408.5" width="15" height="5" fill="#fff" stroke="#1a1a1a" stroke-width="1.1"/>
<path d="M378.0 410.5 L391.0 410.5" fill="none" stroke="#1a1a1a" stroke-width="1.4" stroke-linecap="round" stroke-linejoin="round"/>
<rect x="378.5" y="416" width="8" height="14.5" rx="1" fill="#fff" stroke="#1a1a1a" stroke-width="1.0"/>
<path d="M386.5 416.5 Q390 423 386.5 430" fill="none" stroke="#1a1a1a" stroke-width="0.9"/>
<rect x="377" y="431" width="15" height="2" fill="#555"/>
<path d="M361.0 412.0 C362.2 411.5 365.5 409.5 368.0 409.0 C370.5 408.5 374.7 408.8 376.0 408.8" fill="none" stroke="#1a1a1a" stroke-width="0.9" stroke-linecap="round" stroke-linejoin="round"/>
<rect x="368.5" y="453" width="1.6" height="3" fill="#1a1a1a"/><rect x="377.8" y="453" width="1.6" height="3" fill="#1a1a1a"/>
<path d="M390 401 L392 403.4" stroke="#1a1a1a" stroke-width="1"/>
<path d="M233 404 L234 400.5 L238 400.5 L239 404" fill="#fff" stroke="#1a1a1a" stroke-width="0.9" stroke-linejoin="round" stroke-linecap="round" />
<path d="M254 404 L255 400.5 L259 400.5 L260 404" fill="#fff" stroke="#1a1a1a" stroke-width="0.9" stroke-linejoin="round" stroke-linecap="round" />
<path d="M290 404 L291 400.5 L295 400.5 L296 404" fill="#fff" stroke="#1a1a1a" stroke-width="0.9" stroke-linejoin="round" stroke-linecap="round" />
<path d="M310 404 L311 400.5 L314.5 400.5 L315.5 404" fill="#fff" stroke="#1a1a1a" stroke-width="0.9" stroke-linejoin="round" stroke-linecap="round" />
<rect x="239" y="455.5" width="13.5" height="5.3" fill="#333" stroke="#1a1a1a" stroke-width="0.8"/>
<rect x="241" y="456.8" width="9.5" height="1.5" fill="#fff"/>
<rect x="293.7" y="455.5" width="14.300000000000011" height="5.3" fill="#333" stroke="#1a1a1a" stroke-width="0.8"/>
<rect x="295.7" y="456.8" width="10.300000000000011" height="1.5" fill="#fff"/>
<rect x="213.5" y="403.3" width="119.3" height="53.2" rx="9" fill="#fff" stroke="#111" stroke-width="1.8"/>
<rect x="217.3" y="406.5" width="111.7" height="46.8" rx="7.5" fill="none" stroke="#1a1a1a" stroke-width="1.0"/>
<rect x="220.5" y="409" width="105" height="41.5" rx="6" fill="none" stroke="#111" stroke-width="1.6"/>
<rect x="223.5" y="411" width="99.5" height="37.5" rx="4" fill="none" stroke="#333" stroke-width="0.8"/>
<rect x="225.60000000000002" y="414.3" width="4.4" height="3.4" rx="1" fill="#fff" stroke="#1a1a1a" stroke-width="0.9"/>
<rect x="225.60000000000002" y="422.6" width="4.4" height="3.4" rx="1" fill="#fff" stroke="#1a1a1a" stroke-width="0.9"/>
<rect x="225.60000000000002" y="430.8" width="4.4" height="3.4" rx="1" fill="#fff" stroke="#1a1a1a" stroke-width="0.9"/>
<rect x="225.60000000000002" y="439.1" width="4.4" height="3.4" rx="1" fill="#fff" stroke="#1a1a1a" stroke-width="0.9"/>
<rect x="231.70000000000002" y="412.4" width="7.2" height="7.2" fill="#1a1a1a"/>
<rect x="233.10000000000002" y="414.4" width="4.4" height="3.2" rx="1.2" fill="#fff"/>
<rect x="231.70000000000002" y="420.7" width="7.2" height="7.2" fill="#1a1a1a"/>
<rect x="233.10000000000002" y="422.7" width="4.4" height="3.2" rx="1.2" fill="#fff"/>
<rect x="231.70000000000002" y="428.9" width="7.2" height="7.2" fill="#1a1a1a"/>
<rect x="233.10000000000002" y="430.9" width="4.4" height="3.2" rx="1.2" fill="#fff"/>
<rect x="231.70000000000002" y="437.2" width="7.2" height="7.2" fill="#1a1a1a"/>
<rect x="233.10000000000002" y="439.2" width="4.4" height="3.2" rx="1.2" fill="#fff"/>
<rect x="240.70000000000002" y="412.4" width="7.2" height="7.2" fill="#1a1a1a"/>
<rect x="242.10000000000002" y="414.4" width="4.4" height="3.2" rx="1.2" fill="#fff"/>
<rect x="240.70000000000002" y="420.7" width="7.2" height="7.2" fill="#1a1a1a"/>
<rect x="242.10000000000002" y="422.7" width="4.4" height="3.2" rx="1.2" fill="#fff"/>
<rect x="240.70000000000002" y="428.9" width="7.2" height="7.2" fill="#1a1a1a"/>
<rect x="242.10000000000002" y="430.9" width="4.4" height="3.2" rx="1.2" fill="#fff"/>
<rect x="240.70000000000002" y="437.2" width="7.2" height="7.2" fill="#1a1a1a"/>
<rect x="242.10000000000002" y="439.2" width="4.4" height="3.2" rx="1.2" fill="#fff"/>
<rect x="248.9" y="412.4" width="7.2" height="7.2" fill="#1a1a1a"/>
<rect x="250.3" y="414.4" width="4.4" height="3.2" rx="1.2" fill="#fff"/>
<rect x="248.9" y="420.7" width="7.2" height="7.2" fill="#1a1a1a"/>
<rect x="250.3" y="422.7" width="4.4" height="3.2" rx="1.2" fill="#fff"/>
<rect x="248.9" y="428.9" width="7.2" height="7.2" fill="#1a1a1a"/>
<rect x="250.3" y="430.9" width="4.4" height="3.2" rx="1.2" fill="#fff"/>
<rect x="248.9" y="437.2" width="7.2" height="7.2" fill="#1a1a1a"/>
<rect x="250.3" y="439.2" width="4.4" height="3.2" rx="1.2" fill="#fff"/>
<rect x="238.5" y="437.5" width="10" height="6.5" fill="#1a1a1a"/><rect x="240" y="439" width="7" height="3.5" fill="#fff"/>
<rect x="256.5" y="437.5" width="14" height="6.5" fill="#1a1a1a"/><rect x="258" y="439" width="11" height="3.5" fill="#fff"/>
<path d="M262.0 439.0 L262.0 442.5" fill="none" stroke="#1a1a1a" stroke-width="0.8" stroke-linecap="round" stroke-linejoin="round"/>
<path d="M266.0 439.0 L266.0 442.5" fill="none" stroke="#1a1a1a" stroke-width="0.8" stroke-linecap="round" stroke-linejoin="round"/>
<circle cx="260.8" cy="416" r="3.1" fill="#fff" stroke="#1a1a1a" stroke-width="0.8"/>
<circle cx="260.8" cy="424.3" r="3.1" fill="#fff" stroke="#1a1a1a" stroke-width="0.8"/>
<circle cx="260.8" cy="432.5" r="3.1" fill="#fff" stroke="#1a1a1a" stroke-width="0.8"/>
<circle cx="269" cy="416" r="3.1" fill="#fff" stroke="#1a1a1a" stroke-width="0.8"/>
<circle cx="269" cy="424.3" r="3.1" fill="#fff" stroke="#1a1a1a" stroke-width="0.8"/>
<circle cx="269" cy="432.5" r="3.1" fill="#fff" stroke="#1a1a1a" stroke-width="0.8"/>
<path d="M265.0 412.0 L265.0 436.0" fill="none" stroke="#1a1a1a" stroke-width="0.8" stroke-linecap="round" stroke-linejoin="round"/>
<path d="M256.5 412.0 L256.5 436.0" fill="none" stroke="#1a1a1a" stroke-width="1.0" stroke-linecap="round" stroke-linejoin="round"/>
<rect x="272.8" y="413.8" width="14.199999999999989" height="13.5" fill="#fff" stroke="#111" stroke-width="1.4"/>
<rect x="284.5" y="424.8" width="2" height="2" fill="#1a1a1a"/>
<rect x="272.8" y="429.5" width="14.199999999999989" height="13.5" fill="#fff" stroke="#111" stroke-width="1.4"/>
<rect x="284.5" y="440.5" width="2" height="2" fill="#1a1a1a"/>
<rect x="289.3" y="413.8" width="14.199999999999989" height="13.5" fill="#fff" stroke="#111" stroke-width="1.4"/>
<rect x="301.0" y="424.8" width="2" height="2" fill="#1a1a1a"/>
<rect x="289.3" y="429.5" width="14.199999999999989" height="13.5" fill="#fff" stroke="#111" stroke-width="1.4"/>
<rect x="301.0" y="440.5" width="2" height="2" fill="#1a1a1a"/>
<rect x="305.8" y="413.8" width="14.199999999999989" height="13.5" fill="#fff" stroke="#111" stroke-width="1.4"/>
<rect x="317.5" y="424.8" width="2" height="2" fill="#1a1a1a"/>
<rect x="305.8" y="429.5" width="14.199999999999989" height="13.5" fill="#fff" stroke="#111" stroke-width="1.4"/>
<rect x="317.5" y="440.5" width="2" height="2" fill="#1a1a1a"/>
<rect x="231.0" y="445" width="4.6" height="2.4" fill="#fff" stroke="#1a1a1a" stroke-width="0.7"/>
<rect x="238.6" y="445" width="4.6" height="2.4" fill="#fff" stroke="#1a1a1a" stroke-width="0.7"/>
<rect x="246.2" y="445" width="4.6" height="2.4" fill="#fff" stroke="#1a1a1a" stroke-width="0.7"/>
<rect x="253.8" y="445" width="4.6" height="2.4" fill="#fff" stroke="#1a1a1a" stroke-width="0.7"/>
<rect x="261.4" y="445" width="4.6" height="2.4" fill="#fff" stroke="#1a1a1a" stroke-width="0.7"/>
<rect x="269.0" y="445" width="4.6" height="2.4" fill="#fff" stroke="#1a1a1a" stroke-width="0.7"/>
<rect x="276.6" y="445" width="4.6" height="2.4" fill="#fff" stroke="#1a1a1a" stroke-width="0.7"/>
<rect x="284.2" y="445" width="4.6" height="2.4" fill="#fff" stroke="#1a1a1a" stroke-width="0.7"/>
<rect x="291.8" y="445" width="4.6" height="2.4" fill="#fff" stroke="#1a1a1a" stroke-width="0.7"/>
<rect x="299.4" y="445" width="4.6" height="2.4" fill="#fff" stroke="#1a1a1a" stroke-width="0.7"/>
<rect x="307.0" y="445" width="4.6" height="2.4" fill="#fff" stroke="#1a1a1a" stroke-width="0.7"/>
<rect x="314.6" y="445" width="4.6" height="2.4" fill="#fff" stroke="#1a1a1a" stroke-width="0.7"/>
<path d="M224.0 448.5 L322.5 448.5" fill="none" stroke="#1a1a1a" stroke-width="0.9" stroke-linecap="round" stroke-linejoin="round"/>
<path d="M335.5 508.0 C339.6 516.5 351.8 542.2 360.0 559.0 C368.2 575.8 380.4 600.7 384.5 609.0" fill="none" stroke="#1a1a1a" stroke-width="4.00" stroke-linecap="round" stroke-linejoin="round"/>
<path d="M335.5 508.0 C339.6 516.5 351.8 542.2 360.0 559.0 C368.2 575.8 380.4 600.7 384.5 609.0" fill="none" stroke="#fff" stroke-width="2.20" stroke-linecap="round" stroke-linejoin="round"/>
<g transform="translate(375.3,586.4) rotate(-26)">
<rect x="-7" y="-5" width="12" height="10" rx="2.5" fill="#fff" stroke="#1a1a1a" stroke-width="1.1"/>
<ellipse cx="4.5" cy="0" rx="2.8" ry="5" fill="#1c1c1c"/>
<ellipse cx="4.8" cy="0" rx="1.2" ry="2.6" fill="#888"/>
</g>
<g transform="translate(387,611) rotate(-26)">
<rect x="-4.5" y="-4" width="9" height="8" fill="#fff" stroke="#1a1a1a" stroke-width="1.1"/>
<rect x="0.5" y="-4" width="4" height="8" fill="#333"/>
<rect x="1.5" y="-2" width="2" height="3" fill="#fff"/>
</g>
<path d="M438.2 525.5 C441.8 531.6 452.4 549.4 459.5 562.0 C466.6 574.6 477.4 594.5 481.0 601.0" fill="none" stroke="#1a1a1a" stroke-width="4.60" stroke-linecap="round" stroke-linejoin="round"/>
<path d="M438.2 525.5 C441.8 531.6 452.4 549.4 459.5 562.0 C466.6 574.6 477.4 594.5 481.0 601.0" fill="none" stroke="#fff" stroke-width="2.40" stroke-linecap="round" stroke-linejoin="round"/>
<g transform="translate(482,603.5) rotate(-28)">
<rect x="-3.5" y="-3" width="7" height="6" fill="#fff" stroke="#1a1a1a" stroke-width="1.1"/>
<rect x="0.5" y="-3" width="3" height="6" fill="#333"/>
</g>
<path d="M527.0 606.0 C530.5 601.3 541.3 587.0 548.0 578.0 C554.7 569.0 559.7 562.3 567.0 552.0 C574.3 541.7 587.8 522.0 592.0 516.0" fill="none" stroke="#1a1a1a" stroke-width="5.00" stroke-linecap="butt" stroke-linejoin="round"/>
<path d="M527.0 606.0 C530.5 601.3 541.3 587.0 548.0 578.0 C554.7 569.0 559.7 562.3 567.0 552.0 C574.3 541.7 587.8 522.0 592.0 516.0" fill="none" stroke="#fff" stroke-width="2.80" stroke-linecap="butt" stroke-linejoin="round"/>
<g transform="translate(594.5,510.5) rotate(-30) scale(1.25)">
<path d="M-4 -2 L0 -5 L5 -3 L5 3 L1 5.5 L-4 3 Z" fill="#fff" stroke="#1a1a1a" stroke-width="1.0"/>
<path d="M-4 -2 L1 0.5 L5 -3 M1 0.5 L1 5.5" fill="none" stroke="#1a1a1a" stroke-width="0.8"/>
</g>
<ellipse cx="562.5" cy="559.5" rx="6" ry="4.2" fill="#fff" stroke="#1a1a1a" stroke-width="1.2" transform="rotate(-20 562.5 559.5)"/>
<ellipse cx="566" cy="560" rx="3.2" ry="3" fill="#333"/>
<circle cx="566" cy="559.5" r="1.1" fill="#999"/>
<path d="M564 562 L567.5 563 L570 568 L567.5 572 L565 571 L563.5 565 Z" fill="#1a1a1a"/>
<path d="M564.5 565.0 L568.0 564.5" fill="none" stroke="#888" stroke-width="0.6" stroke-linecap="round" stroke-linejoin="round"/>
<path d="M565.0 568.0 L568.5 567.5" fill="none" stroke="#888" stroke-width="0.6" stroke-linecap="round" stroke-linejoin="round"/>
<path d="M232.0 683.5 C232.8 683.5 234.2 683.8 236.5 683.8 C238.8 683.8 241.8 683.1 245.5 683.8 C249.2 684.5 255.2 686.5 259.0 688.0 C262.8 689.5 264.2 690.4 268.0 692.8 C271.8 695.2 277.7 699.3 281.7 702.4 C285.7 705.5 289.2 708.1 291.9 711.5 C294.5 714.9 295.9 718.6 297.6 723.0 C299.3 727.4 301.1 734.1 302.2 737.9 C303.3 741.6 303.5 743.8 304.5 745.5 C305.5 747.2 306.3 747.8 308.0 748.3 C309.7 748.8 313.2 747.9 314.9 748.3 C316.6 748.7 317.5 749.6 318.3 750.6 C319.1 751.6 318.7 753.2 319.8 754.5 C320.9 755.8 323.7 757.3 325.2 758.6 C326.7 759.9 327.5 760.8 328.7 762.5 C329.9 764.2 330.6 766.6 332.1 769.0 C333.6 771.4 335.4 774.5 337.9 777.0 C340.4 779.5 343.7 781.6 347.1 783.9 C350.6 786.2 356.0 789.2 358.6 790.8 C361.2 792.4 362.3 793.0 363.0 793.5" fill="none" stroke="#1a1a1a" stroke-width="5.10" stroke-linecap="round" stroke-linejoin="round"/>
<path d="M232.0 683.5 C232.8 683.5 234.2 683.8 236.5 683.8 C238.8 683.8 241.8 683.1 245.5 683.8 C249.2 684.5 255.2 686.5 259.0 688.0 C262.8 689.5 264.2 690.4 268.0 692.8 C271.8 695.2 277.7 699.3 281.7 702.4 C285.7 705.5 289.2 708.1 291.9 711.5 C294.5 714.9 295.9 718.6 297.6 723.0 C299.3 727.4 301.1 734.1 302.2 737.9 C303.3 741.6 303.5 743.8 304.5 745.5 C305.5 747.2 306.3 747.8 308.0 748.3 C309.7 748.8 313.2 747.9 314.9 748.3 C316.6 748.7 317.5 749.6 318.3 750.6 C319.1 751.6 318.7 753.2 319.8 754.5 C320.9 755.8 323.7 757.3 325.2 758.6 C326.7 759.9 327.5 760.8 328.7 762.5 C329.9 764.2 330.6 766.6 332.1 769.0 C333.6 771.4 335.4 774.5 337.9 777.0 C340.4 779.5 343.7 781.6 347.1 783.9 C350.6 786.2 356.0 789.2 358.6 790.8 C361.2 792.4 362.3 793.0 363.0 793.5" fill="none" stroke="#fff" stroke-width="2.60" stroke-linecap="round" stroke-linejoin="round"/>
<g transform="translate(225,670) rotate(-19)">
<rect x="-8.5" y="-5.5" width="16" height="10" fill="#fff" stroke="#1a1a1a" stroke-width="1.5"/>
<rect x="-6.5" y="-2.5" width="12" height="3.2" fill="#fff" stroke="#1a1a1a" stroke-width="0.9"/>
</g>
<g transform="translate(229,677) rotate(-17)">
<rect x="-11.5" y="-3.8" width="23" height="7.6" rx="3.5" fill="#fff" stroke="#1a1a1a" stroke-width="1.5"/>
<rect x="-11" y="-3.3" width="3.5" height="6.6" rx="1.5" fill="#1a1a1a"/>
<rect x="-8" y="-0.5" width="16" height="1.6" fill="#1a1a1a"/>
<rect x="8" y="-3.3" width="3" height="6.6" rx="1.5" fill="#1a1a1a"/>
</g>
<g transform="translate(271.5,683.5)">
<rect x="-5.5" y="-8.5" width="11" height="14" rx="1" fill="#fff" stroke="#1a1a1a" stroke-width="1.2"/>
<rect x="-5" y="-8" width="10" height="3.5" fill="#1a1a1a"/>
<rect x="-2.5" y="-7" width="5" height="1.5" fill="#fff"/>
<rect x="2" y="-3" width="3.5" height="9" fill="#444"/>
<rect x="-5" y="5.5" width="10" height="3" fill="#1a1a1a"/>
</g>
<path d="M271.0 692.0 L275.0 700.0" fill="none" stroke="#1a1a1a" stroke-width="1.2" stroke-linecap="round" stroke-linejoin="round"/>
<path d="M279.5 700.5 L283.0 698.5 L285.5 703.0 L282.0 705.5Z" fill="#1a1a1a" stroke="#1a1a1a" stroke-width="0.8" stroke-linejoin="round" />
<g transform="translate(369,796) rotate(32)">
<rect x="-5.5" y="-12" width="11" height="23" rx="1.5" fill="#fff" stroke="#1a1a1a" stroke-width="1.3"/>
<path d="M-3 -9 L-3 9 M-1 -9 L-1 9 M1 -9 L1 9 M3 -9 L3 9" stroke="#555" stroke-width="0.7"/>
<rect x="-5.5" y="-12" width="11" height="5" rx="1.5" fill="#fff" stroke="#1a1a1a" stroke-width="1.2"/>
<rect x="-1" y="-11" width="4" height="3" fill="#333"/>
<path d="M5.5 2 Q9 6 5.5 11" fill="none" stroke="#1a1a1a" stroke-width="1.1"/>
</g>
<path d="M373.8 696.8 C374.7 696.8 377.1 697.8 379.0 696.5 C380.9 695.2 381.2 692.0 385.5 689.0 C389.8 686.0 397.4 681.9 405.0 678.6 C412.6 675.4 422.8 670.9 431.0 669.5 C439.2 668.1 446.6 668.8 454.4 670.3 C462.2 671.8 470.8 675.1 477.8 678.6 C484.8 682.1 490.3 685.7 496.5 691.3 C502.7 696.9 508.8 704.6 515.0 712.0 C521.2 719.4 527.9 728.1 533.5 735.5 C539.1 742.9 544.6 749.4 548.8 756.4 C552.9 763.4 556.2 772.2 558.4 777.4 C560.6 782.6 561.8 784.8 562.0 787.8 C562.2 790.8 561.5 793.0 559.7 795.6 C557.9 798.2 552.9 801.0 551.0 803.4 C549.1 805.8 548.9 808.9 548.5 810.0" fill="none" stroke="#1a1a1a" stroke-width="6.30" stroke-linecap="round" stroke-linejoin="round"/>
<path d="M373.8 696.8 C374.7 696.8 377.1 697.8 379.0 696.5 C380.9 695.2 381.2 692.0 385.5 689.0 C389.8 686.0 397.4 681.9 405.0 678.6 C412.6 675.4 422.8 670.9 431.0 669.5 C439.2 668.1 446.6 668.8 454.4 670.3 C462.2 671.8 470.8 675.1 477.8 678.6 C484.8 682.1 490.3 685.7 496.5 691.3 C502.7 696.9 508.8 704.6 515.0 712.0 C521.2 719.4 527.9 728.1 533.5 735.5 C539.1 742.9 544.6 749.4 548.8 756.4 C552.9 763.4 556.2 772.2 558.4 777.4 C560.6 782.6 561.8 784.8 562.0 787.8 C562.2 790.8 561.5 793.0 559.7 795.6 C557.9 798.2 552.9 801.0 551.0 803.4 C549.1 805.8 548.9 808.9 548.5 810.0" fill="none" stroke="#fff" stroke-width="3.80" stroke-linecap="round" stroke-linejoin="round"/>
<path d="M556.0 780.0 L561.5 777.5" fill="none" stroke="#1a1a1a" stroke-width="1.0" stroke-linecap="round" stroke-linejoin="round"/>
<g transform="translate(362,692.5) rotate(8)">
<rect x="-10" y="-5" width="19" height="10" rx="1.5" fill="#fff" stroke="#1a1a1a" stroke-width="1.2"/>
<rect x="-10" y="-5" width="5" height="10" fill="#1a1a1a"/>
<rect x="-4" y="-3" width="3" height="6" fill="#333"/>
<rect x="1" y="-3" width="3" height="6" fill="#333"/>
<rect x="5" y="-5" width="4" height="10" fill="#1a1a1a"/>
<rect x="-6" y="-8" width="2" height="3" fill="#1a1a1a"/><rect x="-1" y="-8" width="2" height="3" fill="#1a1a1a"/>
</g>
<g transform="translate(554,820)">
<path d="M-5 -9 L4 -11 L7 -6 L6 4 L3 13 L-2 14 L-5 6 L-7 -3 Z" fill="#fff" stroke="#1a1a1a" stroke-width="1.2"/>
<path d="M-6 -8 L4 -10.5 L6.5 -5 L-4 -2 Z" fill="#222" stroke="#1a1a1a" stroke-width="0.8"/>
<path d="M-3 0 L2 -1 L3 9 L-1 10 Z" fill="#fff" stroke="#1a1a1a" stroke-width="0.9"/>
<ellipse cx="0.5" cy="10" rx="2.8" ry="2" fill="#333"/>
<path d="M-6 -4 L-13 -5 L-15 -3 L-13 -1 L-6 -1" fill="#fff" stroke="#1a1a1a" stroke-width="1.1"/>
<rect x="-16.5" y="-5" width="3.5" height="4" rx="1" fill="#1a1a1a"/>
<g transform="translate(10,-9) rotate(-30)"><rect x="-5" y="-2.6" width="11" height="5.2" rx="1.5" fill="#fff" stroke="#1a1a1a" stroke-width="1.1"/><rect x="2.5" y="-2.6" width="3.5" height="5.2" fill="#1a1a1a"/></g>
</g>
<g transform="translate(719.6,711.3) rotate(24)">
<rect x="-10.5" y="-3.6" width="16" height="7.2" rx="3" fill="#fff" stroke="#1a1a1a" stroke-width="1.4"/>
<path d="M-8 -2 L3 -2 M-8 2 L3 2" stroke="#1a1a1a" stroke-width="0.9"/>
<rect x="-4" y="-1.2" width="5" height="2.4" fill="#fff" stroke="#1a1a1a" stroke-width="0.7"/>
<rect x="4" y="-3.8" width="6" height="7.6" rx="2.5" fill="#fff" stroke="#1a1a1a" stroke-width="1.4"/>
</g>
<path d="M729.5 716.0 C730.2 716.4 732.7 717.3 734.0 718.5 C735.3 719.7 736.3 721.6 737.5 723.0 C738.7 724.4 739.8 726.0 741.0 727.0 C742.2 728.0 744.3 728.7 745.0 729.0" fill="none" stroke="#1a1a1a" stroke-width="2.60" stroke-linecap="round" stroke-linejoin="round"/>
<path d="M729.5 716.0 C730.2 716.4 732.7 717.3 734.0 718.5 C735.3 719.7 736.3 721.6 737.5 723.0 C738.7 724.4 739.8 726.0 741.0 727.0 C742.2 728.0 744.3 728.7 745.0 729.0" fill="none" stroke="#fff" stroke-width="1.00" stroke-linecap="round" stroke-linejoin="round"/>
<path d="M737.9 715.9 C738.4 714.6 740.0 710.3 741.0 708.0 C742.0 705.7 742.7 704.0 744.2 701.9 C745.7 699.8 747.9 696.9 749.8 695.6 C751.7 694.3 752.8 693.4 755.4 694.2 C758.0 695.0 762.8 698.5 765.2 700.5 C767.7 702.5 769.4 704.0 770.1 706.1 C770.8 708.2 770.3 710.9 769.4 713.1 C768.5 715.3 765.7 717.2 764.5 719.4 C763.3 721.6 764.1 724.5 762.4 726.4 C760.6 728.3 756.7 729.9 754.0 730.6 C751.3 731.3 748.6 731.9 746.3 730.6 C744.0 729.3 741.4 725.4 740.0 722.9 C738.6 720.4 738.2 717.1 737.9 715.9" fill="#fff" stroke="#1a1a1a" stroke-width="1.6" stroke-linejoin="round" stroke-linecap="round" />
<path d="M738.5 716 L744 703.5 L747 705 L741.5 718 Z" fill="#333" stroke="#1a1a1a" stroke-width="0.8" stroke-linejoin="round" stroke-linecap="round" />
<path d="M740.0 716.5 L745.0 704.5" fill="none" stroke="#bbb" stroke-width="0.6" stroke-linecap="round" stroke-linejoin="round"/>
<path d="M741 719 L747.6 709 L756 716 L749 727 Z" fill="#1a1a1a" stroke="#1a1a1a" stroke-width="1.0" stroke-linejoin="round" stroke-linecap="round" />
<path d="M743.6 718.6 L748.4 711.6 L753.4 716.2 L748.4 723.8 Z" fill="#fff" stroke="#1a1a1a" stroke-width="0.8" stroke-linejoin="round" stroke-linecap="round" />
<path d="M746.5 703.0 C747.1 702.1 748.4 698.8 750.0 697.5 C751.6 696.2 753.7 695.2 756.0 695.5 C758.3 695.8 761.9 697.8 764.0 699.5 C766.1 701.2 767.9 703.4 768.5 705.5 C769.1 707.6 768.4 710.2 767.5 712.0 C766.6 713.8 764.9 715.6 763.0 716.0 C761.1 716.4 758.2 715.7 756.0 714.5 C753.8 713.3 751.1 710.9 749.5 709.0 C747.9 707.1 747.0 704.0 746.5 703.0" fill="#fff" stroke="#1a1a1a" stroke-width="1.4" stroke-linejoin="round" stroke-linecap="round" />
<path d="M750.0 703.0 C750.5 702.3 751.7 699.8 753.0 699.0 C754.3 698.2 756.2 697.9 758.0 698.5 C759.8 699.1 762.8 700.9 764.0 702.5 C765.2 704.1 765.8 706.4 765.5 708.0 C765.2 709.6 763.6 711.6 762.0 712.0 C760.4 712.4 757.8 711.3 756.0 710.5 C754.2 709.7 752.5 708.2 751.5 707.0 C750.5 705.8 750.2 703.7 750.0 703.0" fill="#fff" stroke="#1a1a1a" stroke-width="1.1" stroke-linejoin="round" stroke-linecap="round" />
<path d="M753 704 L757 700.5 L762 704 L761 709 L756 708 Z" fill="#2a2a2a" stroke="#1a1a1a" stroke-width="0.8" stroke-linejoin="round" stroke-linecap="round" />
<path d="M755.0 702.5 L760.0 706.5" fill="none" stroke="#999" stroke-width="0.7" stroke-linecap="round" stroke-linejoin="round"/>
<path d="M756 716 L764.5 719.4 L762.4 726.4 L754 730.6 L749.5 727.5 Z" fill="#2a2a2a" stroke="#1a1a1a" stroke-width="0.8" stroke-linejoin="round" stroke-linecap="round" />
<path d="M753.0 726.0 L761.0 721.0" fill="none" stroke="#aaa" stroke-width="0.7" stroke-linecap="round" stroke-linejoin="round"/>
<path d="M755.0 728.5 L762.0 724.0" fill="none" stroke="#aaa" stroke-width="0.7" stroke-linecap="round" stroke-linejoin="round"/>
<path d="M503 869 Q502 864 507 862.5 Q514 860.5 518 864 L519.5 872 L536 887.5 L528 895.8 L509 879 Q503 876 503 869 Z" fill="#fff" stroke="#1a1a1a" stroke-width="1.2" stroke-linejoin="round" stroke-linecap="round" />
<path d="M503 869 Q505 875 509 875.5 Q513 875 512.5 869.5 Q511 866 507 866" fill="none" stroke="#1a1a1a" stroke-width="1.1" stroke-linejoin="round" stroke-linecap="round" />
<path d="M509.0 876.0 L519.5 872.5" fill="none" stroke="#1a1a1a" stroke-width="1.1" stroke-linecap="round" stroke-linejoin="round"/>
<path d="M510.0 879.0 L520.5 875.0" fill="none" stroke="#1a1a1a" stroke-width="0.8" stroke-linecap="round" stroke-linejoin="round"/>
<ellipse cx="526.5" cy="889.5" rx="3" ry="2.4" fill="#fff" stroke="#1a1a1a" stroke-width="1.1"/>
<path d="M563.5 858 Q563 851.5 570 851 Q580 850.5 583.5 857 L584.5 868.5 L592 878.5 L583 884 L576.5 874 Q565 871 563.5 858 Z" fill="#fff" stroke="#1a1a1a" stroke-width="1.2" stroke-linejoin="round" stroke-linecap="round" />
<path d="M563.5 858 Q566 866 572 866 Q575 863 574 857 Q572 852 568 852" fill="none" stroke="#1a1a1a" stroke-width="1.1" stroke-linejoin="round" stroke-linecap="round" />
<path d="M574.5 869.0 L584.0 867.0" fill="none" stroke="#1a1a1a" stroke-width="1.0" stroke-linecap="round" stroke-linejoin="round"/>
<path d="M576.0 872.0 L585.0 869.5" fill="none" stroke="#1a1a1a" stroke-width="0.8" stroke-linecap="round" stroke-linejoin="round"/>
<ellipse cx="583" cy="876" rx="2.5" ry="2" fill="#fff" stroke="#1a1a1a" stroke-width="1.2"/>
<path d="M580.0 881.0 L589.0 877.0" fill="none" stroke="#1a1a1a" stroke-width="0.8" stroke-linecap="round" stroke-linejoin="round"/>
<rect x="709.5" y="864.5" width="14.5" height="14.2" fill="#fff" stroke="#1a1a1a" stroke-width="1.5"/>
<path d="M718 865 L723.5 869" stroke="#1a1a1a" stroke-width="1"/>
<path d="M710.0 873.5 L723.5 873.5" fill="none" stroke="#555" stroke-width="0.8" stroke-linecap="round" stroke-linejoin="round"/>
<rect x="710.2" y="874.2" width="13" height="3.8" fill="#e8e8e8"/>
<rect x="724" y="868.6" width="24.5" height="2.7999999999999545" fill="#777"/>
<rect x="762.5" y="868.6" width="36" height="2.7999999999999545" fill="#777"/>
<rect x="724" y="872.6" width="24.5" height="2.7999999999999545" fill="#777"/>
<rect x="762.5" y="872.6" width="36" height="2.7999999999999545" fill="#777"/>
<path d="M724.0 868.6 L748.5 868.6" fill="none" stroke="#333" stroke-width="0.8" stroke-linecap="round" stroke-linejoin="round"/>
<path d="M724.0 875.4 L748.5 875.4" fill="none" stroke="#333" stroke-width="0.8" stroke-linecap="round" stroke-linejoin="round"/>
<path d="M724.0 872.0 L748.5 872.0" fill="none" stroke="#fff" stroke-width="0.9" stroke-linecap="round" stroke-linejoin="round"/>
<path d="M762.5 868.6 L798.5 868.6" fill="none" stroke="#333" stroke-width="0.8" stroke-linecap="round" stroke-linejoin="round"/>
<path d="M762.5 875.4 L798.5 875.4" fill="none" stroke="#333" stroke-width="0.8" stroke-linecap="round" stroke-linejoin="round"/>
<path d="M762.5 872.0 L798.5 872.0" fill="none" stroke="#fff" stroke-width="0.9" stroke-linecap="round" stroke-linejoin="round"/>
<rect x="751.5" y="868.2" width="2.4" height="1.8" fill="#1a1a1a"/><rect x="756" y="868.2" width="2.4" height="1.8" fill="#1a1a1a"/>
<rect x="751.5" y="871.3" width="2.4" height="1.8" fill="#1a1a1a"/><rect x="756" y="871.3" width="2.4" height="1.8" fill="#1a1a1a"/>
<rect x="751.5" y="874.4" width="2.4" height="1.8" fill="#1a1a1a"/><rect x="756" y="874.4" width="2.4" height="1.8" fill="#1a1a1a"/>
<path d="M795.5 868.6 L795.5 875.4" fill="none" stroke="#333" stroke-width="0.8" stroke-linecap="round" stroke-linejoin="round"/>
<path d="M798.8 868.6 L798.8 875.4" fill="none" stroke="#333" stroke-width="0.8" stroke-linecap="round" stroke-linejoin="round"/>
<!-- LABELS -->
<g id="labels">
<text class="lb" x="578" y="168.5">Harness, Chassis</text>
<text class="lb" x="146" y="780.5">Speedometer Harness</text>
<text class="lb" x="406" y="780">Taillight Harness</text>
<text class="lb" x="609" y="784">Jumper Harness, CHT Sensor</text>
<text class="lb" x="697.5" y="904">Kit, Connector</text>
<text class="lb" x="663.5" y="921.5">Headlight Relpacement</text>
<text class="lb" x="765" y="955.5">200075</text>
<g transform="translate(184.5,953) scale(0.807,1)"><text style="font-size:15.5px" x="0" y="0">2016 Indian Motorcycle International, LLC</text></g>
<circle cx="172" cy="947" r="6.3" fill="none" stroke="#111" stroke-width="1.1"/>
<text x="172" y="950.6" style="font-size:10px" text-anchor="middle">C</text>
<text class="n" x="424.5" y="211.5">1</text>
<text class="n" x="602.5" y="414.5">2</text>
<text class="n" x="766.5" y="475">3</text>
<text class="n" x="230.5" y="206">4</text>
<text class="n" x="234.5" y="230">5</text>
<text class="n" x="298" y="228.5">6</text>
<text class="n" x="197.5" y="334.5">7</text>
<text class="n" x="206.5" y="501">8</text>
<text class="n" x="299.5" y="595">9</text>
<text class="n" x="499.5" y="536.8">10</text>
<text class="n" x="626" y="580.5">11</text>
<text class="n" x="205.5" y="741">12</text>
<text class="n" x="415.8" y="732">13</text>
<text class="n" x="743.5" y="658.3">14</text>
<text class="n" x="466" y="916.5">15</text>
<text class="n" x="623.5" y="869.7">16</text>
<text class="n" x="768" y="833.2">17</text>
</g>
<g id="leaders" class="ld">
<path d="M439 200.5L481.2 166.8"/>
<path d="M619.4 409L651 402"/>
<path d="M758.4 469L712.8 457.3"/>
<path d="M222.4 206L192 220"/>
<path d="M243.4 234.4L250 268M243.4 234.4L264.4 268"/>
<path d="M298 235.6L287.6 269"/>
<path d="M214 337.6L234 351"/>
<path d="M217.6 482L234 447"/>
<path d="M315.75 584.5L358.75 558"/>
<path d="M491.25 541.75L460.75 561.25"/>
<path d="M618.75 575.8L569.25 563.8"/>
<path d="M229.2 729.7L275.2 701.9"/>
<path d="M440.1 718.9L487.7 690.3"/>
<path d="M746.6 667.2L728 709.2"/>
<path d="M490.4 899.6L509 884"/>
<path d="M619.6 864.4L584.4 860"/>
<path d="M769.5 839.7L753 867.4"/>
</g>
</svg>
</body></html>
